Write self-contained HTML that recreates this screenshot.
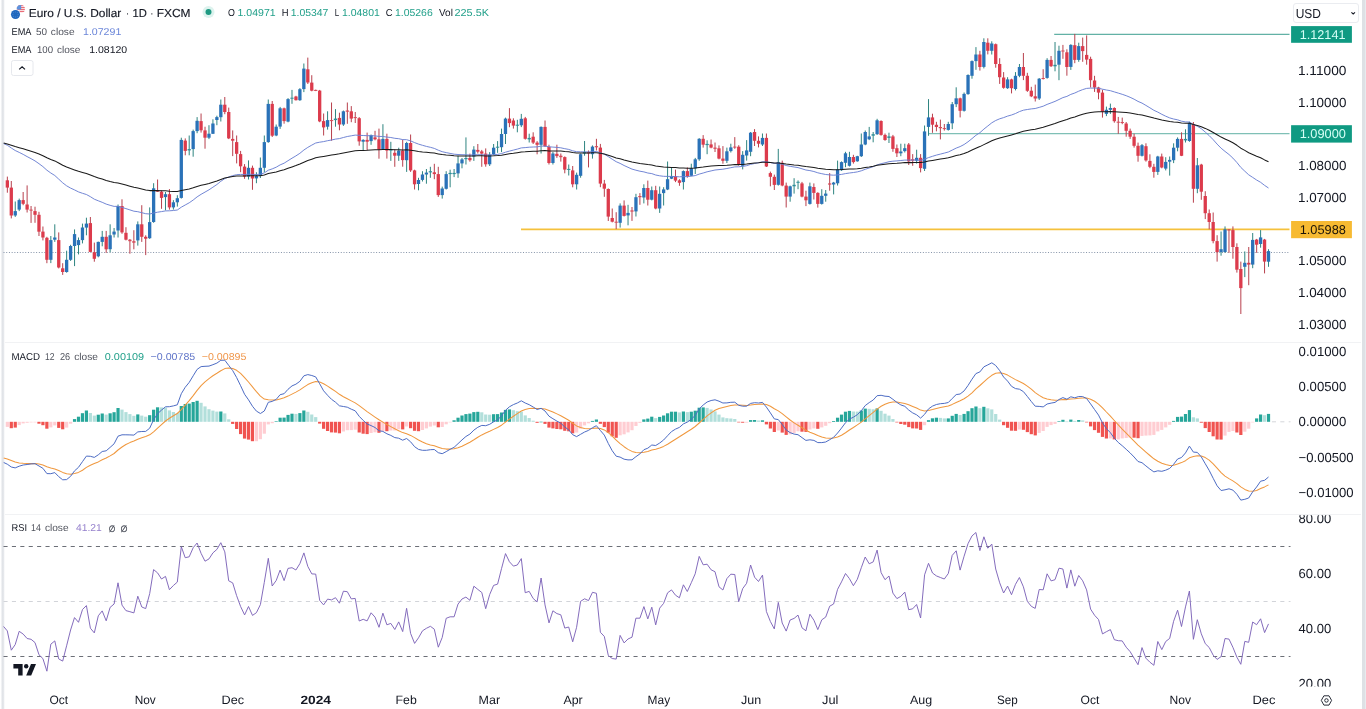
<!DOCTYPE html>
<html lang="en">
<head>
<meta charset="utf-8">
<title>EURUSD chart</title>
<style>
html,body{margin:0;padding:0;background:#fff;}
body{width:1366px;height:709px;overflow:hidden;position:relative;font-family:"Liberation Sans",sans-serif;color:#131722;}
.chart{position:absolute;left:0;top:0;display:block;}
.edge-l{position:absolute;left:0;top:0;width:6px;height:709px;background:linear-gradient(to right,#ffffff 0,#ffffff 0.9px,#e6e8ec 1.9px,#dfe2e6 2.8px,#e6e8ec 3.6px,#ffffff 4.8px,#ffffff 6px);}
.edge-r{position:absolute;left:1361px;top:0;width:5px;height:709px;background:linear-gradient(to right,#ffffff 0,#ffffff 0.6px,#dee1e5 1.3px,#dee1e5 3.8px,#e8ebef 4.2px,#e8ebef 5px);}
.sep{position:absolute;left:5px;width:1356px;height:1px;background:#f1f2f4;}
</style>
</head>
<body>
<div class="edge-l"></div><div class="edge-r"></div>
<div class="sep" style="top:342px"></div>
<div class="sep" style="top:514px"></div>
<svg class="chart" width="1366" height="709" viewBox="0 0 1366 709" shape-rendering="auto">
<g id="lines-h">
<line x1="3.5" x2="1290" y1="252.5" y2="252.5" stroke="#8593a8" stroke-width="1" stroke-dasharray="1 1.72"/>
<line x1="521" x2="1289.5" y1="229.4" y2="229.4" stroke="#f5c13c" stroke-width="1.6"/>
<line x1="928.4" x2="1289.5" y1="133.6" y2="133.6" stroke="#7fc0b6" stroke-width="1.2"/>
<line x1="1054.2" x2="1289.5" y1="34.4" y2="34.4" stroke="#62b1a5" stroke-width="1.2"/>
</g>
<g id="candles" shape-rendering="auto">
<rect x="6.84" y="176.6" width="1" height="16.1" fill="#b8404d"/>
<rect x="10.79" y="181.0" width="1" height="37.4" fill="#b8404d"/>
<rect x="14.75" y="201.5" width="1" height="15.4" fill="#2f8580"/>
<rect x="18.70" y="198.6" width="1" height="12.5" fill="#2f8580"/>
<rect x="22.65" y="192.0" width="1" height="13.2" fill="#b8404d"/>
<rect x="26.61" y="185.4" width="1" height="27.1" fill="#b8404d"/>
<rect x="30.56" y="206.0" width="1" height="16.9" fill="#b8404d"/>
<rect x="34.51" y="206.7" width="1" height="16.1" fill="#b8404d"/>
<rect x="38.47" y="211.8" width="1" height="24.2" fill="#b8404d"/>
<rect x="42.42" y="226.5" width="1" height="13.9" fill="#b8404d"/>
<rect x="46.38" y="236.8" width="1" height="26.4" fill="#b8404d"/>
<rect x="50.33" y="236.0" width="1" height="27.1" fill="#2f8580"/>
<rect x="54.28" y="224.3" width="1" height="17.6" fill="#2f8580"/>
<rect x="58.24" y="232.4" width="1" height="36.0" fill="#b8404d"/>
<rect x="62.19" y="263.2" width="1" height="11.7" fill="#b8404d"/>
<rect x="66.14" y="250.7" width="1" height="22.0" fill="#2f8580"/>
<rect x="70.10" y="244.8" width="1" height="16.1" fill="#2f8580"/>
<rect x="74.05" y="229.4" width="1" height="36.7" fill="#2f8580"/>
<rect x="78.00" y="237.5" width="1" height="16.9" fill="#2f8580"/>
<rect x="81.96" y="223.6" width="1" height="19.8" fill="#2f8580"/>
<rect x="85.91" y="217.7" width="1" height="17.6" fill="#2f8580"/>
<rect x="89.86" y="217.0" width="1" height="35.2" fill="#b8404d"/>
<rect x="93.82" y="242.6" width="1" height="19.1" fill="#b8404d"/>
<rect x="97.77" y="241.6" width="1" height="15.7" fill="#2f8580"/>
<rect x="101.72" y="230.9" width="1" height="15.4" fill="#2f8580"/>
<rect x="105.68" y="230.9" width="1" height="22.0" fill="#b8404d"/>
<rect x="109.63" y="224.3" width="1" height="27.9" fill="#2f8580"/>
<rect x="113.58" y="228.0" width="1" height="9.5" fill="#2f8580"/>
<rect x="117.54" y="204.5" width="1" height="33.0" fill="#2f8580"/>
<rect x="121.49" y="199.3" width="1" height="34.5" fill="#b8404d"/>
<rect x="125.45" y="227.2" width="1" height="13.2" fill="#b8404d"/>
<rect x="129.40" y="239.0" width="1" height="14.7" fill="#b8404d"/>
<rect x="133.35" y="230.2" width="1" height="19.1" fill="#b8404d"/>
<rect x="137.31" y="221.4" width="1" height="24.2" fill="#2f8580"/>
<rect x="141.26" y="205.2" width="1" height="36.7" fill="#b8404d"/>
<rect x="145.21" y="235.3" width="1" height="19.8" fill="#b8404d"/>
<rect x="149.17" y="207.4" width="1" height="31.5" fill="#2f8580"/>
<rect x="153.12" y="183.2" width="1" height="39.6" fill="#2f8580"/>
<rect x="157.07" y="179.5" width="1" height="12.5" fill="#b8404d"/>
<rect x="161.03" y="190.5" width="1" height="18.3" fill="#b8404d"/>
<rect x="164.98" y="192.0" width="1" height="18.3" fill="#2f8580"/>
<rect x="168.93" y="189.1" width="1" height="20.5" fill="#b8404d"/>
<rect x="172.89" y="200.1" width="1" height="9.5" fill="#2f8580"/>
<rect x="176.84" y="195.2" width="1" height="11.4" fill="#2f8580"/>
<rect x="180.79" y="137.7" width="1" height="60.9" fill="#2f8580"/>
<rect x="184.75" y="138.4" width="1" height="16.9" fill="#b8404d"/>
<rect x="188.70" y="135.5" width="1" height="19.8" fill="#2f8580"/>
<rect x="192.65" y="129.6" width="1" height="27.1" fill="#2f8580"/>
<rect x="196.61" y="117.1" width="1" height="16.1" fill="#2f8580"/>
<rect x="200.56" y="113.5" width="1" height="19.1" fill="#b8404d"/>
<rect x="204.52" y="126.7" width="1" height="22.0" fill="#b8404d"/>
<rect x="208.47" y="125.2" width="1" height="13.9" fill="#2f8580"/>
<rect x="212.42" y="119.3" width="1" height="14.7" fill="#2f8580"/>
<rect x="216.38" y="115.7" width="1" height="9.5" fill="#2f8580"/>
<rect x="220.33" y="99.5" width="1" height="22.0" fill="#2f8580"/>
<rect x="224.28" y="97.0" width="1" height="17.2" fill="#b8404d"/>
<rect x="228.24" y="107.6" width="1" height="31.5" fill="#b8404d"/>
<rect x="232.19" y="130.4" width="1" height="25.7" fill="#b8404d"/>
<rect x="236.14" y="135.5" width="1" height="27.9" fill="#b8404d"/>
<rect x="240.10" y="150.9" width="1" height="21.3" fill="#b8404d"/>
<rect x="244.05" y="164.1" width="1" height="14.7" fill="#b8404d"/>
<rect x="248.00" y="160.4" width="1" height="19.1" fill="#2f8580"/>
<rect x="251.96" y="165.6" width="1" height="24.2" fill="#b8404d"/>
<rect x="255.91" y="172.2" width="1" height="11.0" fill="#2f8580"/>
<rect x="259.86" y="157.5" width="1" height="20.5" fill="#2f8580"/>
<rect x="263.82" y="135.5" width="1" height="36.7" fill="#2f8580"/>
<rect x="267.77" y="99.5" width="1" height="43.3" fill="#2f8580"/>
<rect x="271.72" y="101.0" width="1" height="36.0" fill="#b8404d"/>
<rect x="275.68" y="124.5" width="1" height="11.7" fill="#2f8580"/>
<rect x="279.63" y="106.9" width="1" height="22.0" fill="#2f8580"/>
<rect x="283.58" y="107.6" width="1" height="16.1" fill="#b8404d"/>
<rect x="287.54" y="98.1" width="1" height="24.2" fill="#2f8580"/>
<rect x="291.49" y="89.9" width="1" height="13.9" fill="#2f8580"/>
<rect x="295.45" y="95.8" width="1" height="4.7" fill="#b8404d"/>
<rect x="299.40" y="88.1" width="1" height="12.8" fill="#2f8580"/>
<rect x="303.35" y="63.5" width="1" height="28.6" fill="#2f8580"/>
<rect x="307.31" y="57.6" width="1" height="26.4" fill="#b8404d"/>
<rect x="311.26" y="75.2" width="1" height="16.1" fill="#b8404d"/>
<rect x="315.21" y="89.6" width="1" height="1.5" fill="#b8404d"/>
<rect x="319.17" y="89.9" width="1" height="32.3" fill="#b8404d"/>
<rect x="323.12" y="113.5" width="1" height="22.0" fill="#b8404d"/>
<rect x="327.07" y="111.3" width="1" height="18.3" fill="#2f8580"/>
<rect x="331.03" y="102.5" width="1" height="38.2" fill="#b8404d"/>
<rect x="334.98" y="109.1" width="1" height="17.6" fill="#2f8580"/>
<rect x="338.93" y="112.7" width="1" height="17.6" fill="#b8404d"/>
<rect x="342.89" y="110.5" width="1" height="15.4" fill="#2f8580"/>
<rect x="346.84" y="102.5" width="1" height="21.3" fill="#b8404d"/>
<rect x="350.79" y="106.1" width="1" height="16.1" fill="#b8404d"/>
<rect x="354.75" y="112.0" width="1" height="11.0" fill="#b8404d"/>
<rect x="358.70" y="117.1" width="1" height="28.6" fill="#b8404d"/>
<rect x="362.65" y="139.2" width="1" height="11.0" fill="#2f8580"/>
<rect x="366.61" y="132.6" width="1" height="17.6" fill="#b8404d"/>
<rect x="370.56" y="134.5" width="1" height="10.3" fill="#2f8580"/>
<rect x="374.52" y="130.8" width="1" height="9.5" fill="#b8404d"/>
<rect x="378.47" y="128.6" width="1" height="30.1" fill="#b8404d"/>
<rect x="382.42" y="124.2" width="1" height="25.7" fill="#2f8580"/>
<rect x="386.38" y="133.7" width="1" height="24.9" fill="#b8404d"/>
<rect x="390.33" y="141.8" width="1" height="19.1" fill="#2f8580"/>
<rect x="394.28" y="149.2" width="1" height="17.6" fill="#b8404d"/>
<rect x="398.24" y="147.7" width="1" height="13.2" fill="#2f8580"/>
<rect x="402.19" y="139.6" width="1" height="27.1" fill="#b8404d"/>
<rect x="406.14" y="141.8" width="1" height="30.1" fill="#2f8580"/>
<rect x="410.10" y="134.5" width="1" height="37.4" fill="#b8404d"/>
<rect x="414.05" y="169.7" width="1" height="19.8" fill="#b8404d"/>
<rect x="418.00" y="177.8" width="1" height="12.5" fill="#2f8580"/>
<rect x="421.96" y="171.2" width="1" height="10.3" fill="#2f8580"/>
<rect x="425.91" y="169.0" width="1" height="14.7" fill="#2f8580"/>
<rect x="429.86" y="166.8" width="1" height="11.0" fill="#2f8580"/>
<rect x="433.82" y="163.8" width="1" height="15.4" fill="#b8404d"/>
<rect x="437.77" y="166.8" width="1" height="30.1" fill="#b8404d"/>
<rect x="441.72" y="186.6" width="1" height="12.0" fill="#2f8580"/>
<rect x="445.68" y="171.2" width="1" height="18.3" fill="#2f8580"/>
<rect x="449.63" y="169.7" width="1" height="17.6" fill="#2f8580"/>
<rect x="453.59" y="169.0" width="1" height="8.1" fill="#2f8580"/>
<rect x="457.54" y="155.8" width="1" height="22.0" fill="#2f8580"/>
<rect x="461.49" y="158.0" width="1" height="10.3" fill="#2f8580"/>
<rect x="465.45" y="137.4" width="1" height="27.1" fill="#2f8580"/>
<rect x="469.40" y="153.6" width="1" height="8.1" fill="#b8404d"/>
<rect x="473.35" y="146.2" width="1" height="14.7" fill="#2f8580"/>
<rect x="477.31" y="144.0" width="1" height="9.5" fill="#b8404d"/>
<rect x="481.26" y="149.9" width="1" height="16.9" fill="#b8404d"/>
<rect x="485.21" y="148.4" width="1" height="18.3" fill="#b8404d"/>
<rect x="489.17" y="152.1" width="1" height="13.9" fill="#2f8580"/>
<rect x="493.12" y="144.0" width="1" height="11.0" fill="#2f8580"/>
<rect x="497.07" y="141.1" width="1" height="11.7" fill="#2f8580"/>
<rect x="501.03" y="128.6" width="1" height="23.5" fill="#2f8580"/>
<rect x="504.98" y="117.6" width="1" height="26.4" fill="#2f8580"/>
<rect x="508.93" y="108.1" width="1" height="19.1" fill="#b8404d"/>
<rect x="512.89" y="118.3" width="1" height="10.3" fill="#b8404d"/>
<rect x="516.84" y="119.8" width="1" height="12.5" fill="#2f8580"/>
<rect x="520.80" y="113.9" width="1" height="13.2" fill="#2f8580"/>
<rect x="524.75" y="116.9" width="1" height="22.7" fill="#b8404d"/>
<rect x="528.70" y="133.7" width="1" height="8.8" fill="#2f8580"/>
<rect x="532.66" y="132.3" width="1" height="11.7" fill="#b8404d"/>
<rect x="536.61" y="141.1" width="1" height="13.2" fill="#b8404d"/>
<rect x="540.56" y="126.4" width="1" height="27.1" fill="#2f8580"/>
<rect x="544.52" y="120.5" width="1" height="26.4" fill="#b8404d"/>
<rect x="548.47" y="144.7" width="1" height="19.8" fill="#b8404d"/>
<rect x="552.42" y="152.0" width="1" height="12.5" fill="#2f8580"/>
<rect x="556.38" y="144.7" width="1" height="13.2" fill="#b8404d"/>
<rect x="560.33" y="153.5" width="1" height="8.1" fill="#b8404d"/>
<rect x="564.28" y="156.4" width="1" height="16.9" fill="#b8404d"/>
<rect x="568.24" y="164.5" width="1" height="11.0" fill="#2f8580"/>
<rect x="572.19" y="166.0" width="1" height="21.3" fill="#b8404d"/>
<rect x="576.14" y="172.6" width="1" height="16.9" fill="#2f8580"/>
<rect x="580.10" y="153.5" width="1" height="24.2" fill="#2f8580"/>
<rect x="584.05" y="141.0" width="1" height="14.7" fill="#2f8580"/>
<rect x="588.00" y="150.5" width="1" height="16.9" fill="#b8404d"/>
<rect x="591.96" y="145.4" width="1" height="13.2" fill="#2f8580"/>
<rect x="595.91" y="138.8" width="1" height="11.7" fill="#b8404d"/>
<rect x="599.87" y="143.9" width="1" height="43.3" fill="#b8404d"/>
<rect x="603.82" y="179.9" width="1" height="16.9" fill="#b8404d"/>
<rect x="607.77" y="188.4" width="1" height="32.6" fill="#b8404d"/>
<rect x="611.73" y="208.5" width="1" height="13.9" fill="#b8404d"/>
<rect x="615.68" y="212.2" width="1" height="16.9" fill="#b8404d"/>
<rect x="619.63" y="203.4" width="1" height="24.2" fill="#2f8580"/>
<rect x="623.59" y="200.4" width="1" height="16.1" fill="#b8404d"/>
<rect x="627.54" y="204.8" width="1" height="20.5" fill="#2f8580"/>
<rect x="631.49" y="207.0" width="1" height="13.9" fill="#b8404d"/>
<rect x="635.45" y="193.8" width="1" height="22.7" fill="#2f8580"/>
<rect x="639.40" y="193.1" width="1" height="11.7" fill="#b8404d"/>
<rect x="643.35" y="184.3" width="1" height="19.1" fill="#2f8580"/>
<rect x="647.31" y="180.6" width="1" height="24.9" fill="#b8404d"/>
<rect x="651.26" y="186.5" width="1" height="13.9" fill="#2f8580"/>
<rect x="655.21" y="185.8" width="1" height="23.5" fill="#b8404d"/>
<rect x="659.17" y="186.5" width="1" height="26.4" fill="#2f8580"/>
<rect x="663.12" y="187.2" width="1" height="18.3" fill="#2f8580"/>
<rect x="667.07" y="161.5" width="1" height="28.6" fill="#2f8580"/>
<rect x="671.03" y="167.4" width="1" height="11.7" fill="#2f8580"/>
<rect x="674.98" y="169.6" width="1" height="12.5" fill="#b8404d"/>
<rect x="678.94" y="179.2" width="1" height="6.6" fill="#b8404d"/>
<rect x="682.89" y="170.4" width="1" height="19.1" fill="#2f8580"/>
<rect x="686.84" y="167.4" width="1" height="10.3" fill="#b8404d"/>
<rect x="690.80" y="163.7" width="1" height="12.5" fill="#2f8580"/>
<rect x="694.75" y="157.9" width="1" height="16.1" fill="#2f8580"/>
<rect x="698.70" y="138.1" width="1" height="22.7" fill="#2f8580"/>
<rect x="702.66" y="135.1" width="1" height="12.5" fill="#b8404d"/>
<rect x="706.61" y="140.3" width="1" height="13.9" fill="#2f8580"/>
<rect x="710.56" y="139.5" width="1" height="8.8" fill="#b8404d"/>
<rect x="714.52" y="142.5" width="1" height="9.5" fill="#b8404d"/>
<rect x="718.47" y="145.4" width="1" height="13.9" fill="#b8404d"/>
<rect x="722.42" y="146.1" width="1" height="17.6" fill="#b8404d"/>
<rect x="726.38" y="147.6" width="1" height="15.4" fill="#2f8580"/>
<rect x="730.33" y="143.7" width="1" height="8.8" fill="#2f8580"/>
<rect x="734.28" y="137.1" width="1" height="11.7" fill="#b8404d"/>
<rect x="738.24" y="145.2" width="1" height="20.5" fill="#b8404d"/>
<rect x="742.19" y="151.1" width="1" height="18.3" fill="#2f8580"/>
<rect x="746.14" y="140.1" width="1" height="20.5" fill="#2f8580"/>
<rect x="750.10" y="132.0" width="1" height="24.2" fill="#2f8580"/>
<rect x="754.05" y="129.1" width="1" height="16.9" fill="#b8404d"/>
<rect x="758.00" y="136.4" width="1" height="11.0" fill="#b8404d"/>
<rect x="761.96" y="133.5" width="1" height="12.5" fill="#2f8580"/>
<rect x="765.91" y="133.5" width="1" height="33.5" fill="#b8404d"/>
<rect x="769.87" y="171.6" width="1" height="14.7" fill="#b8404d"/>
<rect x="773.82" y="174.6" width="1" height="15.4" fill="#b8404d"/>
<rect x="777.77" y="148.9" width="1" height="36.7" fill="#2f8580"/>
<rect x="781.73" y="160.6" width="1" height="25.7" fill="#b8404d"/>
<rect x="785.68" y="182.6" width="1" height="24.9" fill="#b8404d"/>
<rect x="789.63" y="185.6" width="1" height="16.1" fill="#2f8580"/>
<rect x="793.59" y="178.2" width="1" height="15.4" fill="#2f8580"/>
<rect x="797.54" y="180.4" width="1" height="8.8" fill="#2f8580"/>
<rect x="801.49" y="181.9" width="1" height="15.4" fill="#b8404d"/>
<rect x="805.45" y="190.7" width="1" height="15.4" fill="#b8404d"/>
<rect x="809.40" y="182.6" width="1" height="22.0" fill="#2f8580"/>
<rect x="813.35" y="183.4" width="1" height="16.1" fill="#b8404d"/>
<rect x="817.31" y="192.2" width="1" height="15.4" fill="#b8404d"/>
<rect x="821.26" y="189.2" width="1" height="15.4" fill="#2f8580"/>
<rect x="825.21" y="190.0" width="1" height="11.7" fill="#2f8580"/>
<rect x="829.17" y="173.1" width="1" height="17.6" fill="#b8404d"/>
<rect x="833.12" y="181.9" width="1" height="12.5" fill="#2f8580"/>
<rect x="837.08" y="160.6" width="1" height="24.9" fill="#2f8580"/>
<rect x="841.03" y="161.4" width="1" height="9.5" fill="#2f8580"/>
<rect x="844.98" y="151.8" width="1" height="15.4" fill="#2f8580"/>
<rect x="848.94" y="151.8" width="1" height="14.7" fill="#2f8580"/>
<rect x="852.89" y="154.8" width="1" height="8.8" fill="#b8404d"/>
<rect x="856.84" y="155.8" width="1" height="5.9" fill="#2f8580"/>
<rect x="860.80" y="133.5" width="1" height="23.5" fill="#2f8580"/>
<rect x="864.75" y="130.5" width="1" height="14.7" fill="#2f8580"/>
<rect x="868.70" y="126.9" width="1" height="13.2" fill="#2f8580"/>
<rect x="872.66" y="132.0" width="1" height="10.3" fill="#2f8580"/>
<rect x="876.61" y="118.8" width="1" height="16.1" fill="#2f8580"/>
<rect x="880.56" y="120.3" width="1" height="15.4" fill="#b8404d"/>
<rect x="884.52" y="133.5" width="1" height="7.3" fill="#b8404d"/>
<rect x="888.47" y="132.7" width="1" height="10.3" fill="#2f8580"/>
<rect x="892.42" y="134.9" width="1" height="16.9" fill="#b8404d"/>
<rect x="896.38" y="144.5" width="1" height="12.5" fill="#b8404d"/>
<rect x="900.33" y="143.7" width="1" height="12.5" fill="#2f8580"/>
<rect x="904.28" y="143.7" width="1" height="8.8" fill="#2f8580"/>
<rect x="908.24" y="143.0" width="1" height="22.0" fill="#b8404d"/>
<rect x="912.19" y="154.1" width="1" height="11.7" fill="#b8404d"/>
<rect x="916.14" y="149.7" width="1" height="13.9" fill="#2f8580"/>
<rect x="920.10" y="154.1" width="1" height="18.3" fill="#b8404d"/>
<rect x="924.05" y="125.5" width="1" height="45.5" fill="#2f8580"/>
<rect x="928.01" y="99.1" width="1" height="36.7" fill="#2f8580"/>
<rect x="931.96" y="113.7" width="1" height="19.1" fill="#b8404d"/>
<rect x="935.91" y="121.8" width="1" height="9.5" fill="#b8404d"/>
<rect x="939.87" y="119.6" width="1" height="19.8" fill="#b8404d"/>
<rect x="943.82" y="124.0" width="1" height="6.6" fill="#b8404d"/>
<rect x="947.77" y="121.8" width="1" height="8.8" fill="#2f8580"/>
<rect x="951.73" y="102.0" width="1" height="27.1" fill="#2f8580"/>
<rect x="955.68" y="87.3" width="1" height="19.8" fill="#2f8580"/>
<rect x="959.63" y="97.6" width="1" height="19.8" fill="#b8404d"/>
<rect x="963.59" y="92.5" width="1" height="19.1" fill="#2f8580"/>
<rect x="967.54" y="74.3" width="1" height="20.5" fill="#2f8580"/>
<rect x="971.49" y="60.4" width="1" height="18.3" fill="#2f8580"/>
<rect x="975.45" y="47.1" width="1" height="22.7" fill="#2f8580"/>
<rect x="979.40" y="50.8" width="1" height="19.8" fill="#b8404d"/>
<rect x="983.35" y="38.3" width="1" height="30.1" fill="#2f8580"/>
<rect x="987.31" y="38.3" width="1" height="16.1" fill="#b8404d"/>
<rect x="991.26" y="41.3" width="1" height="13.2" fill="#2f8580"/>
<rect x="995.22" y="43.5" width="1" height="24.2" fill="#b8404d"/>
<rect x="999.17" y="58.2" width="1" height="25.7" fill="#b8404d"/>
<rect x="1003.12" y="72.1" width="1" height="16.6" fill="#b8404d"/>
<rect x="1007.08" y="77.2" width="1" height="11.7" fill="#2f8580"/>
<rect x="1011.03" y="78.7" width="1" height="14.7" fill="#b8404d"/>
<rect x="1014.98" y="72.1" width="1" height="18.3" fill="#2f8580"/>
<rect x="1018.94" y="64.0" width="1" height="13.2" fill="#2f8580"/>
<rect x="1022.89" y="53.0" width="1" height="27.1" fill="#b8404d"/>
<rect x="1026.84" y="72.8" width="1" height="19.1" fill="#b8404d"/>
<rect x="1030.80" y="86.8" width="1" height="10.3" fill="#b8404d"/>
<rect x="1034.75" y="84.6" width="1" height="16.9" fill="#b8404d"/>
<rect x="1038.70" y="78.0" width="1" height="22.0" fill="#2f8580"/>
<rect x="1042.66" y="69.2" width="1" height="10.3" fill="#b8404d"/>
<rect x="1046.61" y="58.2" width="1" height="20.5" fill="#2f8580"/>
<rect x="1050.56" y="56.0" width="1" height="11.0" fill="#b8404d"/>
<rect x="1054.52" y="42.0" width="1" height="29.3" fill="#2f8580"/>
<rect x="1058.47" y="45.7" width="1" height="34.5" fill="#2f8580"/>
<rect x="1062.42" y="44.9" width="1" height="13.9" fill="#b8404d"/>
<rect x="1066.38" y="49.3" width="1" height="26.4" fill="#b8404d"/>
<rect x="1070.33" y="44.2" width="1" height="25.7" fill="#2f8580"/>
<rect x="1074.28" y="33.9" width="1" height="29.3" fill="#b8404d"/>
<rect x="1078.24" y="42.7" width="1" height="19.1" fill="#2f8580"/>
<rect x="1082.19" y="37.6" width="1" height="24.2" fill="#b8404d"/>
<rect x="1086.15" y="35.4" width="1" height="29.3" fill="#b8404d"/>
<rect x="1090.10" y="56.7" width="1" height="30.8" fill="#b8404d"/>
<rect x="1094.05" y="75.8" width="1" height="16.1" fill="#b8404d"/>
<rect x="1098.01" y="86.8" width="1" height="12.5" fill="#b8404d"/>
<rect x="1101.96" y="89.7" width="1" height="27.9" fill="#b8404d"/>
<rect x="1105.91" y="106.6" width="1" height="9.5" fill="#2f8580"/>
<rect x="1109.87" y="103.6" width="1" height="10.3" fill="#2f8580"/>
<rect x="1113.82" y="107.3" width="1" height="15.4" fill="#b8404d"/>
<rect x="1117.77" y="116.9" width="1" height="16.9" fill="#b8404d"/>
<rect x="1121.73" y="117.6" width="1" height="6.6" fill="#b8404d"/>
<rect x="1125.68" y="122.0" width="1" height="14.7" fill="#b8404d"/>
<rect x="1129.63" y="128.6" width="1" height="10.3" fill="#b8404d"/>
<rect x="1133.59" y="133.7" width="1" height="13.9" fill="#b8404d"/>
<rect x="1137.54" y="142.6" width="1" height="19.1" fill="#b8404d"/>
<rect x="1141.49" y="144.0" width="1" height="12.5" fill="#2f8580"/>
<rect x="1145.45" y="143.3" width="1" height="18.3" fill="#b8404d"/>
<rect x="1149.40" y="154.3" width="1" height="13.9" fill="#b8404d"/>
<rect x="1153.36" y="163.8" width="1" height="13.9" fill="#b8404d"/>
<rect x="1157.31" y="155.8" width="1" height="19.1" fill="#2f8580"/>
<rect x="1161.26" y="153.6" width="1" height="14.7" fill="#b8404d"/>
<rect x="1165.22" y="157.2" width="1" height="13.2" fill="#2f8580"/>
<rect x="1169.17" y="156.5" width="1" height="19.1" fill="#2f8580"/>
<rect x="1173.12" y="143.3" width="1" height="19.8" fill="#2f8580"/>
<rect x="1177.08" y="137.4" width="1" height="13.9" fill="#2f8580"/>
<rect x="1181.03" y="132.3" width="1" height="23.8" fill="#b8404d"/>
<rect x="1184.98" y="129.3" width="1" height="13.2" fill="#2f8580"/>
<rect x="1188.94" y="121.7" width="1" height="20.1" fill="#2f8580"/>
<rect x="1192.89" y="122.0" width="1" height="80.7" fill="#b8404d"/>
<rect x="1196.84" y="158.0" width="1" height="35.2" fill="#2f8580"/>
<rect x="1200.80" y="163.8" width="1" height="36.0" fill="#b8404d"/>
<rect x="1204.75" y="191.2" width="1" height="27.9" fill="#b8404d"/>
<rect x="1208.70" y="209.5" width="1" height="19.8" fill="#b8404d"/>
<rect x="1212.66" y="212.5" width="1" height="30.8" fill="#b8404d"/>
<rect x="1216.61" y="235.2" width="1" height="26.4" fill="#b8404d"/>
<rect x="1220.56" y="231.5" width="1" height="24.2" fill="#2f8580"/>
<rect x="1224.52" y="226.4" width="1" height="26.4" fill="#2f8580"/>
<rect x="1228.47" y="229.1" width="1" height="23.8" fill="#b8404d"/>
<rect x="1232.42" y="226.4" width="1" height="32.3" fill="#b8404d"/>
<rect x="1236.38" y="243.3" width="1" height="29.3" fill="#b8404d"/>
<rect x="1240.33" y="261.6" width="1" height="52.4" fill="#b8404d"/>
<rect x="1244.29" y="251.4" width="1" height="25.7" fill="#2f8580"/>
<rect x="1248.24" y="247.0" width="1" height="38.2" fill="#b8404d"/>
<rect x="1252.19" y="233.0" width="1" height="35.2" fill="#2f8580"/>
<rect x="1256.15" y="238.9" width="1" height="13.9" fill="#b8404d"/>
<rect x="1260.10" y="230.1" width="1" height="17.6" fill="#2f8580"/>
<rect x="1264.05" y="238.9" width="1" height="34.5" fill="#b8404d"/>
<rect x="1268.01" y="249.2" width="1" height="17.6" fill="#2f8580"/>
<rect x="5.69" y="180.3" width="3.3" height="7.3" fill="#dc3b4c"/>
<rect x="9.64" y="187.6" width="3.3" height="27.9" fill="#dc3b4c"/>
<rect x="13.60" y="211.1" width="3.3" height="4.4" fill="#2a72b8"/>
<rect x="17.55" y="200.1" width="3.3" height="9.5" fill="#2a72b8"/>
<rect x="21.50" y="200.1" width="3.3" height="3.7" fill="#dc3b4c"/>
<rect x="25.46" y="204.5" width="3.3" height="5.1" fill="#dc3b4c"/>
<rect x="29.41" y="209.6" width="3.3" height="1.0" fill="#d84a58"/>
<rect x="33.36" y="211.1" width="3.3" height="3.7" fill="#dc3b4c"/>
<rect x="37.32" y="214.8" width="3.3" height="16.9" fill="#dc3b4c"/>
<rect x="41.27" y="231.6" width="3.3" height="5.9" fill="#dc3b4c"/>
<rect x="45.23" y="237.8" width="3.3" height="22.0" fill="#dc3b4c"/>
<rect x="49.18" y="240.1" width="3.3" height="19.7" fill="#2a72b8"/>
<rect x="53.13" y="237.5" width="3.3" height="2.2" fill="#2a72b8"/>
<rect x="57.09" y="240.1" width="3.3" height="27.4" fill="#dc3b4c"/>
<rect x="61.04" y="268.3" width="3.3" height="3.7" fill="#dc3b4c"/>
<rect x="64.99" y="259.8" width="3.3" height="12.2" fill="#2a72b8"/>
<rect x="68.95" y="246.0" width="3.3" height="13.8" fill="#2a72b8"/>
<rect x="72.90" y="234.1" width="3.3" height="11.9" fill="#2a72b8"/>
<rect x="76.85" y="240.1" width="3.3" height="5.0" fill="#2a72b8"/>
<rect x="80.81" y="227.5" width="3.3" height="12.6" fill="#2a72b8"/>
<rect x="84.76" y="223.6" width="3.3" height="4.0" fill="#2a72b8"/>
<rect x="88.71" y="223.1" width="3.3" height="28.8" fill="#dc3b4c"/>
<rect x="92.67" y="252.2" width="3.3" height="6.6" fill="#dc3b4c"/>
<rect x="96.62" y="241.9" width="3.3" height="14.4" fill="#2a72b8"/>
<rect x="100.57" y="236.8" width="3.3" height="5.1" fill="#2a72b8"/>
<rect x="104.53" y="236.8" width="3.3" height="12.5" fill="#dc3b4c"/>
<rect x="108.48" y="235.3" width="3.3" height="13.9" fill="#2a72b8"/>
<rect x="112.43" y="231.6" width="3.3" height="2.9" fill="#2a72b8"/>
<rect x="116.39" y="206.0" width="3.3" height="24.5" fill="#2a72b8"/>
<rect x="120.34" y="206.0" width="3.3" height="26.4" fill="#dc3b4c"/>
<rect x="124.30" y="232.8" width="3.3" height="6.9" fill="#dc3b4c"/>
<rect x="128.25" y="239.7" width="3.3" height="1.5" fill="#d84a58"/>
<rect x="132.20" y="241.2" width="3.3" height="1.5" fill="#d84a58"/>
<rect x="136.16" y="224.3" width="3.3" height="16.1" fill="#2a72b8"/>
<rect x="140.11" y="224.3" width="3.3" height="12.5" fill="#dc3b4c"/>
<rect x="144.06" y="236.8" width="3.3" height="1.9" fill="#dc3b4c"/>
<rect x="148.02" y="222.1" width="3.3" height="16.1" fill="#2a72b8"/>
<rect x="151.97" y="188.3" width="3.3" height="33.7" fill="#2a72b8"/>
<rect x="155.92" y="190.2" width="3.3" height="1.5" fill="#d84a58"/>
<rect x="159.88" y="191.7" width="3.3" height="6.2" fill="#dc3b4c"/>
<rect x="163.83" y="194.2" width="3.3" height="2.9" fill="#2a72b8"/>
<rect x="167.78" y="194.2" width="3.3" height="13.2" fill="#dc3b4c"/>
<rect x="171.74" y="202.3" width="3.3" height="5.1" fill="#2a72b8"/>
<rect x="175.69" y="198.2" width="3.3" height="4.1" fill="#2a72b8"/>
<rect x="179.64" y="139.9" width="3.3" height="58.0" fill="#2a72b8"/>
<rect x="183.60" y="140.6" width="3.3" height="10.3" fill="#dc3b4c"/>
<rect x="187.55" y="149.1" width="3.3" height="1.3" fill="#2f8f9c"/>
<rect x="191.50" y="131.1" width="3.3" height="18.0" fill="#2a72b8"/>
<rect x="195.46" y="120.8" width="3.3" height="10.3" fill="#2a72b8"/>
<rect x="199.41" y="121.1" width="3.3" height="9.2" fill="#dc3b4c"/>
<rect x="203.37" y="130.4" width="3.3" height="7.3" fill="#dc3b4c"/>
<rect x="207.32" y="133.7" width="3.3" height="4.0" fill="#2a72b8"/>
<rect x="211.27" y="123.5" width="3.3" height="10.3" fill="#2a72b8"/>
<rect x="215.23" y="117.1" width="3.3" height="2.9" fill="#2a72b8"/>
<rect x="219.18" y="104.7" width="3.3" height="12.5" fill="#2a72b8"/>
<rect x="223.13" y="104.7" width="3.3" height="7.3" fill="#dc3b4c"/>
<rect x="227.09" y="112.0" width="3.3" height="26.4" fill="#dc3b4c"/>
<rect x="231.04" y="138.9" width="3.3" height="1.8" fill="#dc3b4c"/>
<rect x="234.99" y="142.1" width="3.3" height="11.7" fill="#dc3b4c"/>
<rect x="238.95" y="154.1" width="3.3" height="12.2" fill="#dc3b4c"/>
<rect x="242.90" y="166.6" width="3.3" height="10.0" fill="#dc3b4c"/>
<rect x="246.85" y="167.8" width="3.3" height="8.8" fill="#2a72b8"/>
<rect x="250.81" y="167.8" width="3.3" height="10.7" fill="#dc3b4c"/>
<rect x="254.76" y="175.8" width="3.3" height="2.6" fill="#2a72b8"/>
<rect x="258.71" y="167.8" width="3.3" height="8.1" fill="#2a72b8"/>
<rect x="262.67" y="142.1" width="3.3" height="25.7" fill="#2a72b8"/>
<rect x="266.62" y="103.9" width="3.3" height="38.2" fill="#2a72b8"/>
<rect x="270.57" y="103.9" width="3.3" height="31.8" fill="#dc3b4c"/>
<rect x="274.53" y="126.7" width="3.3" height="8.8" fill="#2a72b8"/>
<rect x="278.48" y="108.3" width="3.3" height="18.3" fill="#2a72b8"/>
<rect x="282.44" y="108.3" width="3.3" height="12.8" fill="#dc3b4c"/>
<rect x="286.39" y="99.1" width="3.3" height="22.5" fill="#2a72b8"/>
<rect x="290.34" y="97.7" width="3.3" height="1.0" fill="#2f8f9c"/>
<rect x="294.30" y="96.5" width="3.3" height="3.7" fill="#dc3b4c"/>
<rect x="298.25" y="89.2" width="3.3" height="11.0" fill="#2a72b8"/>
<rect x="302.20" y="68.6" width="3.3" height="20.5" fill="#2a72b8"/>
<rect x="306.16" y="69.3" width="3.3" height="13.2" fill="#dc3b4c"/>
<rect x="310.11" y="82.6" width="3.3" height="8.1" fill="#dc3b4c"/>
<rect x="314.06" y="89.9" width="3.3" height="1.0" fill="#d84a58"/>
<rect x="318.02" y="90.6" width="3.3" height="30.8" fill="#dc3b4c"/>
<rect x="321.97" y="121.1" width="3.3" height="6.3" fill="#dc3b4c"/>
<rect x="325.92" y="120.1" width="3.3" height="6.6" fill="#2a72b8"/>
<rect x="329.88" y="120.1" width="3.3" height="1.0" fill="#d84a58"/>
<rect x="333.83" y="118.6" width="3.3" height="1.5" fill="#2f8f9c"/>
<rect x="337.78" y="117.9" width="3.3" height="6.6" fill="#dc3b4c"/>
<rect x="341.74" y="111.3" width="3.3" height="13.2" fill="#2a72b8"/>
<rect x="345.69" y="110.5" width="3.3" height="1.2" fill="#d84a58"/>
<rect x="349.64" y="111.3" width="3.3" height="7.3" fill="#dc3b4c"/>
<rect x="353.60" y="117.1" width="3.3" height="1.0" fill="#d84a58"/>
<rect x="357.55" y="118.2" width="3.3" height="23.2" fill="#dc3b4c"/>
<rect x="361.50" y="139.9" width="3.3" height="1.8" fill="#2a72b8"/>
<rect x="365.46" y="139.9" width="3.3" height="1.8" fill="#dc3b4c"/>
<rect x="369.41" y="135.2" width="3.3" height="5.9" fill="#2a72b8"/>
<rect x="373.37" y="137.4" width="3.3" height="1.9" fill="#dc3b4c"/>
<rect x="377.32" y="139.3" width="3.3" height="10.3" fill="#dc3b4c"/>
<rect x="381.27" y="138.9" width="3.3" height="10.3" fill="#2a72b8"/>
<rect x="385.23" y="138.9" width="3.3" height="11.7" fill="#dc3b4c"/>
<rect x="389.18" y="149.6" width="3.3" height="1.0" fill="#2f8f9c"/>
<rect x="393.13" y="152.8" width="3.3" height="2.9" fill="#dc3b4c"/>
<rect x="397.09" y="150.6" width="3.3" height="5.1" fill="#2a72b8"/>
<rect x="401.04" y="150.6" width="3.3" height="9.5" fill="#dc3b4c"/>
<rect x="404.99" y="143.0" width="3.3" height="17.2" fill="#2a72b8"/>
<rect x="408.95" y="143.0" width="3.3" height="27.4" fill="#dc3b4c"/>
<rect x="412.90" y="170.4" width="3.3" height="13.9" fill="#dc3b4c"/>
<rect x="416.85" y="180.0" width="3.3" height="4.0" fill="#2a72b8"/>
<rect x="420.81" y="174.5" width="3.3" height="5.4" fill="#2a72b8"/>
<rect x="424.76" y="172.6" width="3.3" height="1.9" fill="#2a72b8"/>
<rect x="428.71" y="171.2" width="3.3" height="1.2" fill="#2f8f9c"/>
<rect x="432.67" y="172.3" width="3.3" height="1.8" fill="#dc3b4c"/>
<rect x="436.62" y="174.1" width="3.3" height="21.0" fill="#dc3b4c"/>
<rect x="440.57" y="188.5" width="3.3" height="6.6" fill="#2a72b8"/>
<rect x="444.53" y="174.1" width="3.3" height="14.7" fill="#2a72b8"/>
<rect x="448.48" y="172.9" width="3.3" height="1.2" fill="#2f8f9c"/>
<rect x="452.44" y="172.9" width="3.3" height="1.2" fill="#2f8f9c"/>
<rect x="456.39" y="163.4" width="3.3" height="10.0" fill="#2a72b8"/>
<rect x="460.34" y="159.4" width="3.3" height="4.0" fill="#2a72b8"/>
<rect x="464.30" y="158.0" width="3.3" height="1.2" fill="#2f8f9c"/>
<rect x="468.25" y="158.0" width="3.3" height="2.2" fill="#dc3b4c"/>
<rect x="472.20" y="149.6" width="3.3" height="6.9" fill="#2a72b8"/>
<rect x="476.16" y="149.9" width="3.3" height="1.8" fill="#dc3b4c"/>
<rect x="480.11" y="151.4" width="3.3" height="2.2" fill="#dc3b4c"/>
<rect x="484.06" y="153.6" width="3.3" height="10.7" fill="#dc3b4c"/>
<rect x="488.02" y="154.6" width="3.3" height="9.7" fill="#2a72b8"/>
<rect x="491.97" y="147.7" width="3.3" height="6.6" fill="#2a72b8"/>
<rect x="495.92" y="146.7" width="3.3" height="1.0" fill="#2f8f9c"/>
<rect x="499.88" y="134.0" width="3.3" height="13.2" fill="#2a72b8"/>
<rect x="503.83" y="118.6" width="3.3" height="15.4" fill="#2a72b8"/>
<rect x="507.78" y="118.6" width="3.3" height="4.5" fill="#dc3b4c"/>
<rect x="511.74" y="120.5" width="3.3" height="5.1" fill="#dc3b4c"/>
<rect x="515.69" y="124.7" width="3.3" height="1.0" fill="#2f8f9c"/>
<rect x="519.65" y="118.8" width="3.3" height="6.5" fill="#2a72b8"/>
<rect x="523.60" y="118.3" width="3.3" height="20.5" fill="#dc3b4c"/>
<rect x="527.55" y="137.9" width="3.3" height="1.5" fill="#2f8f9c"/>
<rect x="531.51" y="136.7" width="3.3" height="5.9" fill="#dc3b4c"/>
<rect x="535.46" y="142.6" width="3.3" height="2.2" fill="#dc3b4c"/>
<rect x="539.41" y="126.9" width="3.3" height="17.9" fill="#2a72b8"/>
<rect x="543.37" y="126.9" width="3.3" height="19.4" fill="#dc3b4c"/>
<rect x="547.32" y="146.9" width="3.3" height="16.1" fill="#dc3b4c"/>
<rect x="551.27" y="153.5" width="3.3" height="9.5" fill="#2a72b8"/>
<rect x="555.23" y="153.8" width="3.3" height="2.3" fill="#dc3b4c"/>
<rect x="559.18" y="155.7" width="3.3" height="1.5" fill="#d84a58"/>
<rect x="563.13" y="157.1" width="3.3" height="12.5" fill="#dc3b4c"/>
<rect x="567.09" y="168.9" width="3.3" height="1.0" fill="#2f8f9c"/>
<rect x="571.04" y="170.4" width="3.3" height="13.9" fill="#dc3b4c"/>
<rect x="574.99" y="174.8" width="3.3" height="9.5" fill="#2a72b8"/>
<rect x="578.95" y="154.2" width="3.3" height="21.6" fill="#2a72b8"/>
<rect x="582.90" y="152.0" width="3.3" height="1.5" fill="#2f8f9c"/>
<rect x="586.85" y="152.0" width="3.3" height="1.5" fill="#d84a58"/>
<rect x="590.81" y="146.6" width="3.3" height="7.6" fill="#2a72b8"/>
<rect x="594.76" y="146.1" width="3.3" height="1.2" fill="#d84a58"/>
<rect x="598.72" y="147.6" width="3.3" height="36.0" fill="#dc3b4c"/>
<rect x="602.67" y="183.6" width="3.3" height="5.1" fill="#dc3b4c"/>
<rect x="606.62" y="189.0" width="3.3" height="27.6" fill="#dc3b4c"/>
<rect x="610.58" y="218.0" width="3.3" height="3.7" fill="#dc3b4c"/>
<rect x="614.53" y="221.7" width="3.3" height="1.0" fill="#d84a58"/>
<rect x="618.48" y="205.6" width="3.3" height="17.2" fill="#2a72b8"/>
<rect x="622.44" y="205.6" width="3.3" height="10.3" fill="#dc3b4c"/>
<rect x="626.39" y="212.9" width="3.3" height="2.5" fill="#2a72b8"/>
<rect x="630.34" y="210.4" width="3.3" height="1.2" fill="#d84a58"/>
<rect x="634.30" y="197.2" width="3.3" height="14.2" fill="#2a72b8"/>
<rect x="638.25" y="196.0" width="3.3" height="1.2" fill="#d84a58"/>
<rect x="642.20" y="188.0" width="3.3" height="9.5" fill="#2a72b8"/>
<rect x="646.16" y="188.0" width="3.3" height="11.7" fill="#dc3b4c"/>
<rect x="650.11" y="190.2" width="3.3" height="9.5" fill="#2a72b8"/>
<rect x="654.06" y="190.2" width="3.3" height="18.3" fill="#dc3b4c"/>
<rect x="658.02" y="193.8" width="3.3" height="14.7" fill="#2a72b8"/>
<rect x="661.97" y="189.4" width="3.3" height="3.7" fill="#2a72b8"/>
<rect x="665.92" y="179.2" width="3.3" height="10.3" fill="#2a72b8"/>
<rect x="669.88" y="176.2" width="3.3" height="2.5" fill="#2a72b8"/>
<rect x="673.83" y="176.2" width="3.3" height="4.4" fill="#dc3b4c"/>
<rect x="677.79" y="180.3" width="3.3" height="2.5" fill="#dc3b4c"/>
<rect x="681.74" y="171.1" width="3.3" height="11.0" fill="#2a72b8"/>
<rect x="685.69" y="171.1" width="3.3" height="5.1" fill="#dc3b4c"/>
<rect x="689.65" y="168.2" width="3.3" height="7.6" fill="#2a72b8"/>
<rect x="693.60" y="159.3" width="3.3" height="9.1" fill="#2a72b8"/>
<rect x="697.55" y="138.8" width="3.3" height="20.5" fill="#2a72b8"/>
<rect x="701.51" y="138.8" width="3.3" height="5.9" fill="#dc3b4c"/>
<rect x="705.46" y="143.9" width="3.3" height="1.2" fill="#2f8f9c"/>
<rect x="709.41" y="144.4" width="3.3" height="3.2" fill="#dc3b4c"/>
<rect x="713.37" y="147.6" width="3.3" height="1.2" fill="#d84a58"/>
<rect x="717.32" y="148.3" width="3.3" height="10.3" fill="#dc3b4c"/>
<rect x="721.27" y="158.6" width="3.3" height="2.2" fill="#dc3b4c"/>
<rect x="725.23" y="151.3" width="3.3" height="9.5" fill="#2a72b8"/>
<rect x="729.18" y="147.4" width="3.3" height="3.7" fill="#2a72b8"/>
<rect x="733.13" y="146.6" width="3.3" height="1.0" fill="#d84a58"/>
<rect x="737.09" y="146.7" width="3.3" height="18.3" fill="#dc3b4c"/>
<rect x="741.04" y="154.8" width="3.3" height="11.0" fill="#2a72b8"/>
<rect x="744.99" y="150.4" width="3.3" height="5.1" fill="#2a72b8"/>
<rect x="748.95" y="132.7" width="3.3" height="19.1" fill="#2a72b8"/>
<rect x="752.90" y="132.0" width="3.3" height="8.8" fill="#dc3b4c"/>
<rect x="756.86" y="140.8" width="3.3" height="2.9" fill="#dc3b4c"/>
<rect x="760.81" y="137.9" width="3.3" height="6.6" fill="#2a72b8"/>
<rect x="764.76" y="137.9" width="3.3" height="28.6" fill="#dc3b4c"/>
<rect x="768.72" y="173.1" width="3.3" height="3.7" fill="#dc3b4c"/>
<rect x="772.67" y="176.8" width="3.3" height="8.1" fill="#dc3b4c"/>
<rect x="776.62" y="162.1" width="3.3" height="22.7" fill="#2a72b8"/>
<rect x="780.58" y="162.8" width="3.3" height="22.7" fill="#dc3b4c"/>
<rect x="784.53" y="185.6" width="3.3" height="11.0" fill="#dc3b4c"/>
<rect x="788.48" y="186.3" width="3.3" height="10.3" fill="#2a72b8"/>
<rect x="792.44" y="184.8" width="3.3" height="1.5" fill="#2f8f9c"/>
<rect x="796.39" y="181.8" width="3.3" height="1.0" fill="#2f8f9c"/>
<rect x="800.34" y="183.4" width="3.3" height="13.2" fill="#dc3b4c"/>
<rect x="804.30" y="196.6" width="3.3" height="3.7" fill="#dc3b4c"/>
<rect x="808.25" y="186.3" width="3.3" height="17.6" fill="#2a72b8"/>
<rect x="812.20" y="187.0" width="3.3" height="5.9" fill="#dc3b4c"/>
<rect x="816.16" y="192.9" width="3.3" height="11.0" fill="#dc3b4c"/>
<rect x="820.11" y="195.8" width="3.3" height="8.1" fill="#2a72b8"/>
<rect x="824.06" y="193.6" width="3.3" height="2.2" fill="#2a72b8"/>
<rect x="828.02" y="183.4" width="3.3" height="1.2" fill="#d84a58"/>
<rect x="831.97" y="182.6" width="3.3" height="1.9" fill="#2a72b8"/>
<rect x="835.93" y="169.4" width="3.3" height="13.9" fill="#2a72b8"/>
<rect x="839.88" y="162.1" width="3.3" height="8.1" fill="#2a72b8"/>
<rect x="843.83" y="153.3" width="3.3" height="9.5" fill="#2a72b8"/>
<rect x="847.79" y="157.0" width="3.3" height="8.8" fill="#2a72b8"/>
<rect x="851.74" y="157.0" width="3.3" height="5.1" fill="#dc3b4c"/>
<rect x="855.69" y="156.2" width="3.3" height="5.1" fill="#2a72b8"/>
<rect x="859.65" y="144.5" width="3.3" height="11.7" fill="#2a72b8"/>
<rect x="863.60" y="132.0" width="3.3" height="12.5" fill="#2a72b8"/>
<rect x="867.55" y="136.4" width="3.3" height="2.9" fill="#2a72b8"/>
<rect x="871.51" y="134.2" width="3.3" height="1.5" fill="#2f8f9c"/>
<rect x="875.46" y="120.3" width="3.3" height="13.9" fill="#2a72b8"/>
<rect x="879.41" y="121.0" width="3.3" height="13.9" fill="#dc3b4c"/>
<rect x="883.37" y="134.9" width="3.3" height="5.1" fill="#dc3b4c"/>
<rect x="887.32" y="136.4" width="3.3" height="1.5" fill="#2f8f9c"/>
<rect x="891.27" y="136.4" width="3.3" height="12.5" fill="#dc3b4c"/>
<rect x="895.23" y="148.2" width="3.3" height="5.1" fill="#dc3b4c"/>
<rect x="899.18" y="151.5" width="3.3" height="1.8" fill="#2a72b8"/>
<rect x="903.13" y="148.2" width="3.3" height="2.9" fill="#2a72b8"/>
<rect x="907.09" y="144.5" width="3.3" height="16.9" fill="#dc3b4c"/>
<rect x="911.04" y="159.2" width="3.3" height="1.5" fill="#d84a58"/>
<rect x="915.00" y="157.8" width="3.3" height="2.9" fill="#2a72b8"/>
<rect x="918.95" y="157.8" width="3.3" height="10.3" fill="#dc3b4c"/>
<rect x="922.90" y="131.4" width="3.3" height="37.4" fill="#2a72b8"/>
<rect x="926.86" y="117.4" width="3.3" height="9.5" fill="#2a72b8"/>
<rect x="930.81" y="117.4" width="3.3" height="7.3" fill="#dc3b4c"/>
<rect x="934.76" y="124.8" width="3.3" height="2.2" fill="#dc3b4c"/>
<rect x="938.72" y="127.0" width="3.3" height="1.2" fill="#d84a58"/>
<rect x="942.67" y="128.1" width="3.3" height="1.0" fill="#d84a58"/>
<rect x="946.62" y="124.0" width="3.3" height="5.9" fill="#2a72b8"/>
<rect x="950.58" y="104.2" width="3.3" height="19.1" fill="#2a72b8"/>
<rect x="954.53" y="98.3" width="3.3" height="5.9" fill="#2a72b8"/>
<rect x="958.48" y="98.3" width="3.3" height="12.5" fill="#dc3b4c"/>
<rect x="962.44" y="93.9" width="3.3" height="16.9" fill="#2a72b8"/>
<rect x="966.39" y="75.0" width="3.3" height="19.1" fill="#2a72b8"/>
<rect x="970.34" y="61.1" width="3.3" height="14.7" fill="#2a72b8"/>
<rect x="974.30" y="54.5" width="3.3" height="6.6" fill="#2a72b8"/>
<rect x="978.25" y="54.5" width="3.3" height="12.5" fill="#dc3b4c"/>
<rect x="982.20" y="42.0" width="3.3" height="24.9" fill="#2a72b8"/>
<rect x="986.16" y="42.7" width="3.3" height="8.1" fill="#dc3b4c"/>
<rect x="990.11" y="43.5" width="3.3" height="7.3" fill="#2a72b8"/>
<rect x="994.07" y="44.2" width="3.3" height="19.8" fill="#dc3b4c"/>
<rect x="998.02" y="64.0" width="3.3" height="13.2" fill="#dc3b4c"/>
<rect x="1001.97" y="77.5" width="3.3" height="10.3" fill="#dc3b4c"/>
<rect x="1005.93" y="79.4" width="3.3" height="8.8" fill="#2a72b8"/>
<rect x="1009.88" y="79.4" width="3.3" height="8.8" fill="#dc3b4c"/>
<rect x="1013.83" y="75.8" width="3.3" height="13.2" fill="#2a72b8"/>
<rect x="1017.79" y="67.0" width="3.3" height="8.8" fill="#2a72b8"/>
<rect x="1021.74" y="67.0" width="3.3" height="8.8" fill="#dc3b4c"/>
<rect x="1025.69" y="75.8" width="3.3" height="15.0" fill="#dc3b4c"/>
<rect x="1029.65" y="90.7" width="3.3" height="5.6" fill="#dc3b4c"/>
<rect x="1033.60" y="96.3" width="3.3" height="2.2" fill="#dc3b4c"/>
<rect x="1037.55" y="78.7" width="3.3" height="19.8" fill="#2a72b8"/>
<rect x="1041.51" y="78.0" width="3.3" height="1.0" fill="#d84a58"/>
<rect x="1045.46" y="59.9" width="3.3" height="18.0" fill="#2a72b8"/>
<rect x="1049.41" y="59.9" width="3.3" height="6.3" fill="#dc3b4c"/>
<rect x="1053.37" y="64.8" width="3.3" height="1.5" fill="#2f8f9c"/>
<rect x="1057.32" y="50.8" width="3.3" height="13.9" fill="#2a72b8"/>
<rect x="1061.27" y="50.5" width="3.3" height="1.0" fill="#d84a58"/>
<rect x="1065.23" y="52.3" width="3.3" height="14.7" fill="#dc3b4c"/>
<rect x="1069.18" y="44.9" width="3.3" height="22.0" fill="#2a72b8"/>
<rect x="1073.13" y="45.2" width="3.3" height="14.7" fill="#dc3b4c"/>
<rect x="1077.09" y="46.1" width="3.3" height="13.8" fill="#2a72b8"/>
<rect x="1081.04" y="46.1" width="3.3" height="5.0" fill="#dc3b4c"/>
<rect x="1085.00" y="54.9" width="3.3" height="4.7" fill="#dc3b4c"/>
<rect x="1088.95" y="58.9" width="3.3" height="21.3" fill="#dc3b4c"/>
<rect x="1092.90" y="80.5" width="3.3" height="7.0" fill="#dc3b4c"/>
<rect x="1096.86" y="87.5" width="3.3" height="5.1" fill="#dc3b4c"/>
<rect x="1100.81" y="92.6" width="3.3" height="19.1" fill="#dc3b4c"/>
<rect x="1104.76" y="109.8" width="3.3" height="4.1" fill="#2a72b8"/>
<rect x="1108.72" y="108.0" width="3.3" height="1.8" fill="#2a72b8"/>
<rect x="1112.67" y="108.0" width="3.3" height="13.2" fill="#dc3b4c"/>
<rect x="1116.62" y="121.7" width="3.3" height="1.0" fill="#d84a58"/>
<rect x="1120.58" y="122.0" width="3.3" height="1.0" fill="#d84a58"/>
<rect x="1124.53" y="123.5" width="3.3" height="7.3" fill="#dc3b4c"/>
<rect x="1128.48" y="130.8" width="3.3" height="5.9" fill="#dc3b4c"/>
<rect x="1132.44" y="136.7" width="3.3" height="9.1" fill="#dc3b4c"/>
<rect x="1136.39" y="145.8" width="3.3" height="10.0" fill="#dc3b4c"/>
<rect x="1140.34" y="145.2" width="3.3" height="10.6" fill="#2a72b8"/>
<rect x="1144.30" y="146.2" width="3.3" height="14.2" fill="#dc3b4c"/>
<rect x="1148.25" y="160.9" width="3.3" height="5.9" fill="#dc3b4c"/>
<rect x="1152.20" y="166.8" width="3.3" height="5.1" fill="#dc3b4c"/>
<rect x="1156.16" y="156.5" width="3.3" height="15.4" fill="#2a72b8"/>
<rect x="1160.11" y="156.5" width="3.3" height="11.0" fill="#dc3b4c"/>
<rect x="1164.07" y="161.9" width="3.3" height="6.7" fill="#2a72b8"/>
<rect x="1168.02" y="159.9" width="3.3" height="1.8" fill="#2a72b8"/>
<rect x="1171.97" y="147.7" width="3.3" height="12.5" fill="#2a72b8"/>
<rect x="1175.93" y="138.9" width="3.3" height="8.8" fill="#2a72b8"/>
<rect x="1179.88" y="138.9" width="3.3" height="16.9" fill="#dc3b4c"/>
<rect x="1183.83" y="138.9" width="3.3" height="1.5" fill="#2f8f9c"/>
<rect x="1187.79" y="122.7" width="3.3" height="18.3" fill="#2a72b8"/>
<rect x="1191.74" y="124.2" width="3.3" height="64.6" fill="#dc3b4c"/>
<rect x="1195.69" y="165.3" width="3.3" height="23.5" fill="#2a72b8"/>
<rect x="1199.65" y="164.6" width="3.3" height="27.1" fill="#dc3b4c"/>
<rect x="1203.60" y="196.0" width="3.3" height="17.2" fill="#dc3b4c"/>
<rect x="1207.55" y="213.2" width="3.3" height="8.8" fill="#dc3b4c"/>
<rect x="1211.51" y="222.0" width="3.3" height="19.1" fill="#dc3b4c"/>
<rect x="1215.46" y="241.1" width="3.3" height="11.0" fill="#dc3b4c"/>
<rect x="1219.41" y="249.2" width="3.3" height="2.9" fill="#2a72b8"/>
<rect x="1223.37" y="229.3" width="3.3" height="22.7" fill="#2a72b8"/>
<rect x="1227.32" y="229.3" width="3.3" height="1.2" fill="#d84a58"/>
<rect x="1231.27" y="230.1" width="3.3" height="16.9" fill="#dc3b4c"/>
<rect x="1235.23" y="247.0" width="3.3" height="22.7" fill="#dc3b4c"/>
<rect x="1239.18" y="269.0" width="3.3" height="19.1" fill="#dc3b4c"/>
<rect x="1243.14" y="262.8" width="3.3" height="4.0" fill="#2a72b8"/>
<rect x="1247.09" y="262.8" width="3.3" height="1.8" fill="#dc3b4c"/>
<rect x="1251.04" y="239.9" width="3.3" height="24.7" fill="#2a72b8"/>
<rect x="1255.00" y="239.6" width="3.3" height="5.1" fill="#dc3b4c"/>
<rect x="1258.95" y="237.4" width="3.3" height="6.6" fill="#2a72b8"/>
<rect x="1262.90" y="239.6" width="3.3" height="22.0" fill="#dc3b4c"/>
<rect x="1266.86" y="251.1" width="3.3" height="10.6" fill="#2a72b8"/>
</g>
<path d="M3.7,143.6 L7.3,145.2 L11.3,148.0 L15.2,150.5 L19.2,152.4 L23.2,154.4 L27.1,156.6 L31.1,158.7 L35.0,160.9 L39.0,163.7 L42.9,166.6 L46.9,170.2 L50.8,173.0 L54.8,175.5 L58.7,179.1 L62.7,182.8 L66.6,185.8 L70.6,188.1 L74.5,189.9 L78.5,191.9 L82.5,193.3 L86.4,194.5 L90.4,196.7 L94.3,199.2 L98.3,200.8 L102.2,202.3 L106.2,204.1 L110.1,205.3 L114.1,206.4 L118.0,206.3 L122.0,207.4 L125.9,208.6 L129.9,209.9 L133.9,211.2 L137.8,211.7 L141.8,212.7 L145.7,213.7 L149.7,214.0 L153.6,213.0 L157.6,212.2 L161.5,211.6 L165.5,210.9 L169.4,210.8 L173.4,210.5 L177.3,210.0 L181.3,207.2 L185.2,205.0 L189.2,202.8 L193.2,200.0 L197.1,196.9 L201.1,194.3 L205.0,192.1 L209.0,189.8 L212.9,187.2 L216.9,184.5 L220.8,181.3 L224.8,178.6 L228.7,177.0 L232.7,175.6 L236.6,174.7 L240.6,174.4 L244.6,174.5 L248.5,174.2 L252.5,174.4 L256.4,174.5 L260.4,174.2 L264.3,172.9 L268.3,170.2 L272.2,168.9 L276.2,167.2 L280.1,164.9 L284.1,163.2 L288.0,160.7 L292.0,158.2 L295.9,155.9 L299.9,153.3 L303.9,150.0 L307.8,147.4 L311.8,145.1 L315.7,143.0 L319.7,142.2 L323.6,141.6 L327.6,140.7 L331.5,140.0 L335.5,139.1 L339.4,138.6 L343.4,137.5 L347.3,136.5 L351.3,135.8 L355.2,135.1 L359.2,135.3 L363.2,135.5 L367.1,135.7 L371.1,135.7 L375.0,135.9 L379.0,136.4 L382.9,136.5 L386.9,137.1 L390.8,137.5 L394.8,138.3 L398.7,138.7 L402.7,139.6 L406.6,139.7 L410.6,140.9 L414.6,142.6 L418.5,144.1 L422.5,145.3 L426.4,146.4 L430.4,147.3 L434.3,148.4 L438.3,150.2 L442.2,151.7 L446.2,152.6 L450.1,153.4 L454.1,154.2 L458.0,154.5 L462.0,154.7 L465.9,154.8 L469.9,155.0 L473.9,154.8 L477.8,154.7 L481.8,154.7 L485.7,155.0 L489.7,155.0 L493.6,154.7 L497.6,154.4 L501.5,153.6 L505.5,152.2 L509.4,151.1 L513.4,150.1 L517.3,149.1 L521.3,147.9 L525.2,147.6 L529.2,147.2 L533.2,147.0 L537.1,146.9 L541.1,146.1 L545.0,146.1 L549.0,146.8 L552.9,147.1 L556.9,147.4 L560.8,147.8 L564.8,148.7 L568.7,149.4 L572.7,150.8 L576.6,151.7 L580.6,151.8 L584.6,151.9 L588.5,151.9 L592.5,151.7 L596.4,151.5 L600.4,152.8 L604.3,154.2 L608.3,156.6 L612.2,159.2 L616.2,161.7 L620.1,163.4 L624.1,165.5 L628.0,167.3 L632.0,169.1 L635.9,170.2 L639.9,171.2 L643.9,171.9 L647.8,173.0 L651.8,173.6 L655.7,175.0 L659.7,175.8 L663.6,176.3 L667.6,176.4 L671.5,176.4 L675.5,176.6 L679.4,176.8 L683.4,176.6 L687.3,176.6 L691.3,176.2 L695.2,175.6 L699.2,174.1 L703.2,173.0 L707.1,171.8 L711.1,170.9 L715.0,170.0 L719.0,169.6 L722.9,169.2 L726.9,168.5 L730.8,167.7 L734.8,166.9 L738.7,166.8 L742.7,166.4 L746.6,165.7 L750.6,164.4 L754.6,163.5 L758.5,162.7 L762.5,161.8 L766.4,161.9 L770.4,162.5 L774.3,163.4 L778.3,163.4 L782.2,164.2 L786.2,165.5 L790.1,166.3 L794.1,167.0 L798.0,167.6 L802.0,168.8 L805.9,170.0 L809.9,170.6 L813.9,171.5 L817.8,172.8 L821.8,173.7 L825.7,174.5 L829.7,174.9 L833.6,175.2 L837.6,174.9 L841.5,174.4 L845.5,173.6 L849.4,173.0 L853.4,172.5 L857.3,171.9 L861.3,170.8 L865.2,169.3 L869.2,168.0 L873.2,166.7 L877.1,164.9 L881.1,163.7 L885.0,162.8 L889.0,161.7 L892.9,161.2 L896.9,160.9 L900.8,160.5 L904.8,160.1 L908.7,160.1 L912.7,160.1 L916.6,160.0 L920.6,160.4 L924.6,159.2 L928.5,157.6 L932.5,156.3 L936.4,155.1 L940.4,154.1 L944.3,153.1 L948.3,152.0 L952.2,150.1 L956.2,148.1 L960.1,146.6 L964.1,144.5 L968.0,141.8 L972.0,138.6 L975.9,135.3 L979.9,132.7 L983.9,129.1 L987.8,126.0 L991.8,122.8 L995.7,120.5 L999.7,118.8 L1003.6,117.6 L1007.6,116.1 L1011.5,115.0 L1015.5,113.5 L1019.4,111.6 L1023.4,110.2 L1027.3,109.5 L1031.3,108.9 L1035.2,108.5 L1039.2,107.4 L1043.2,106.2 L1047.1,104.4 L1051.1,102.9 L1055.0,101.4 L1059.0,99.5 L1062.9,97.6 L1066.9,96.4 L1070.8,94.4 L1074.8,93.0 L1078.7,91.2 L1082.7,89.6 L1086.6,88.4 L1090.6,88.1 L1094.6,88.1 L1098.5,88.2 L1102.5,89.2 L1106.4,90.0 L1110.4,90.7 L1114.3,91.9 L1118.3,93.1 L1122.2,94.3 L1126.2,95.7 L1130.1,97.3 L1134.1,99.2 L1138.0,101.4 L1142.0,103.1 L1145.9,105.4 L1149.9,107.8 L1153.9,110.3 L1157.8,112.1 L1161.8,114.3 L1165.7,116.2 L1169.7,117.9 L1173.6,119.0 L1177.6,119.8 L1181.5,121.2 L1185.5,121.9 L1189.4,122.0 L1193.4,124.6 L1197.3,126.2 L1201.3,128.7 L1205.3,132.1 L1209.2,135.6 L1213.2,139.7 L1217.1,144.1 L1221.1,148.2 L1225.0,151.4 L1229.0,154.5 L1232.9,158.1 L1236.9,162.5 L1240.8,167.4 L1244.8,171.2 L1248.7,174.8 L1252.7,177.4 L1256.6,180.0 L1260.6,182.3 L1264.6,185.4 L1268.5,188.0" fill="none" stroke="#6a80d2" stroke-width="0.95" stroke-linejoin="round"/>
<path d="M3.7,143.0 L7.3,143.9 L11.3,145.3 L15.2,146.6 L19.2,147.7 L23.2,148.8 L27.1,150.0 L31.1,151.2 L35.0,152.4 L39.0,154.0 L42.9,155.7 L46.9,157.7 L50.8,159.4 L54.8,160.9 L58.7,163.0 L62.7,165.2 L66.6,167.0 L70.6,168.6 L74.5,169.9 L78.5,171.3 L82.5,172.4 L86.4,173.4 L90.4,175.0 L94.3,176.6 L98.3,177.9 L102.2,179.1 L106.2,180.5 L110.1,181.6 L114.1,182.6 L118.0,183.0 L122.0,184.0 L125.9,185.1 L129.9,186.2 L133.9,187.3 L137.8,188.1 L141.8,189.0 L145.7,190.0 L149.7,190.6 L153.6,190.6 L157.6,190.6 L161.5,190.8 L165.5,190.8 L169.4,191.2 L173.4,191.4 L177.3,191.5 L181.3,190.5 L185.2,189.7 L189.2,188.9 L193.2,187.8 L197.1,186.4 L201.1,185.3 L205.0,184.4 L209.0,183.4 L212.9,182.2 L216.9,180.9 L220.8,179.4 L224.8,178.1 L228.7,177.3 L232.7,176.5 L236.6,176.1 L240.6,175.9 L244.6,175.9 L248.5,175.8 L252.5,175.8 L256.4,175.8 L260.4,175.7 L264.3,175.0 L268.3,173.6 L272.2,172.8 L276.2,171.9 L280.1,170.7 L284.1,169.7 L288.0,168.3 L292.0,166.9 L295.9,165.6 L299.9,164.0 L303.9,162.2 L307.8,160.6 L311.8,159.2 L315.7,157.8 L319.7,157.1 L323.6,156.5 L327.6,155.8 L331.5,155.1 L335.5,154.4 L339.4,153.8 L343.4,153.0 L347.3,152.2 L351.3,151.5 L355.2,150.8 L359.2,150.6 L363.2,150.4 L367.1,150.3 L371.1,150.0 L375.0,149.7 L379.0,149.7 L382.9,149.5 L386.9,149.5 L390.8,149.6 L394.8,149.7 L398.7,149.7 L402.7,149.9 L406.6,149.8 L410.6,150.2 L414.6,150.8 L418.5,151.4 L422.5,151.9 L426.4,152.3 L430.4,152.7 L434.3,153.1 L438.3,153.9 L442.2,154.6 L446.2,155.0 L450.1,155.3 L454.1,155.7 L458.0,155.9 L462.0,155.9 L465.9,156.0 L469.9,156.0 L473.9,155.9 L477.8,155.8 L481.8,155.8 L485.7,156.0 L489.7,155.9 L493.6,155.8 L497.6,155.6 L501.5,155.2 L505.5,154.4 L509.4,153.8 L513.4,153.3 L517.3,152.7 L521.3,152.0 L525.2,151.8 L529.2,151.5 L533.2,151.3 L537.1,151.2 L541.1,150.7 L545.0,150.6 L549.0,150.9 L552.9,150.9 L556.9,151.0 L560.8,151.1 L564.8,151.5 L568.7,151.8 L572.7,152.5 L576.6,152.9 L580.6,153.0 L584.6,152.9 L588.5,152.9 L592.5,152.8 L596.4,152.7 L600.4,153.3 L604.3,154.0 L608.3,155.3 L612.2,156.6 L616.2,157.9 L620.1,158.8 L624.1,160.0 L628.0,161.0 L632.0,162.0 L635.9,162.7 L639.9,163.4 L643.9,163.9 L647.8,164.6 L651.8,165.1 L655.7,165.9 L659.7,166.5 L663.6,167.0 L667.6,167.2 L671.5,167.4 L675.5,167.6 L679.4,167.9 L683.4,168.0 L687.3,168.2 L691.3,168.2 L695.2,168.0 L699.2,167.4 L703.2,167.0 L707.1,166.5 L711.1,166.1 L715.0,165.8 L719.0,165.6 L722.9,165.5 L726.9,165.3 L730.8,164.9 L734.8,164.6 L738.7,164.6 L742.7,164.4 L746.6,164.1 L750.6,163.5 L754.6,163.0 L758.5,162.7 L762.5,162.2 L766.4,162.2 L770.4,162.5 L774.3,163.0 L778.3,163.0 L782.2,163.4 L786.2,164.1 L790.1,164.5 L794.1,164.9 L798.0,165.2 L802.0,165.9 L805.9,166.5 L809.9,166.9 L813.9,167.5 L817.8,168.2 L821.8,168.7 L825.7,169.2 L829.7,169.5 L833.6,169.8 L837.6,169.8 L841.5,169.6 L845.5,169.3 L849.4,169.1 L853.4,168.9 L857.3,168.7 L861.3,168.2 L865.2,167.5 L869.2,166.9 L873.2,166.2 L877.1,165.3 L881.1,164.7 L885.0,164.2 L889.0,163.7 L892.9,163.4 L896.9,163.2 L900.8,162.9 L904.8,162.6 L908.7,162.6 L912.7,162.6 L916.6,162.5 L920.6,162.6 L924.6,162.0 L928.5,161.1 L932.5,160.4 L936.4,159.7 L940.4,159.1 L944.3,158.5 L948.3,157.8 L952.2,156.7 L956.2,155.6 L960.1,154.7 L964.1,153.5 L968.0,151.9 L972.0,150.1 L975.9,148.3 L979.9,146.6 L983.9,144.6 L987.8,142.7 L991.8,140.8 L995.7,139.2 L999.7,138.0 L1003.6,137.0 L1007.6,135.9 L1011.5,134.9 L1015.5,133.8 L1019.4,132.4 L1023.4,131.3 L1027.3,130.5 L1031.3,129.8 L1035.2,129.2 L1039.2,128.2 L1043.2,127.2 L1047.1,125.9 L1051.1,124.7 L1055.0,123.5 L1059.0,122.1 L1062.9,120.7 L1066.9,119.6 L1070.8,118.1 L1074.8,117.0 L1078.7,115.6 L1082.7,114.3 L1086.6,113.2 L1090.6,112.6 L1094.6,112.1 L1098.5,111.7 L1102.5,111.7 L1106.4,111.7 L1110.4,111.6 L1114.3,111.8 L1118.3,112.0 L1122.2,112.2 L1126.2,112.6 L1130.1,113.1 L1134.1,113.7 L1138.0,114.5 L1142.0,115.1 L1145.9,116.0 L1149.9,117.0 L1153.9,118.1 L1157.8,118.9 L1161.8,119.9 L1165.7,120.7 L1169.7,121.5 L1173.6,122.0 L1177.6,122.3 L1181.5,123.0 L1185.5,123.3 L1189.4,123.3 L1193.4,124.6 L1197.3,125.4 L1201.3,126.7 L1205.3,128.4 L1209.2,130.3 L1213.2,132.5 L1217.1,134.8 L1221.1,137.1 L1225.0,138.9 L1229.0,140.7 L1232.9,142.8 L1236.9,145.3 L1240.8,148.2 L1244.8,150.4 L1248.7,152.7 L1252.7,154.4 L1256.6,156.2 L1260.6,157.8 L1264.6,159.9 L1268.5,161.7" fill="none" stroke="#1a1a1a" stroke-width="1.05" stroke-linejoin="round"/>
<g id="macd">
<line x1="1271.9" x2="1290.5" y1="421.8" y2="421.8" stroke="#d4d6db" stroke-width="1" stroke-dasharray="4.1 4.3"/>
<g shape-rendering="auto">
<rect x="5.74" y="421.8" width="3.2" height="5.1" fill="#ffcdd2"/>
<rect x="9.69" y="421.8" width="3.2" height="6.4" fill="#f05350"/>
<rect x="13.65" y="421.8" width="3.2" height="5.8" fill="#f05350"/>
<rect x="17.60" y="421.8" width="3.2" height="3.3" fill="#ffcdd2"/>
<rect x="21.55" y="421.8" width="3.2" height="1.6" fill="#ffcdd2"/>
<rect x="25.51" y="421.8" width="3.2" height="1.0" fill="#ffcdd2"/>
<rect x="29.46" y="421.8" width="3.2" height="0.6" fill="#ffcdd2"/>
<rect x="33.41" y="421.8" width="3.2" height="0.6" fill="#ffcdd2"/>
<rect x="37.37" y="421.8" width="3.2" height="1.9" fill="#f05350"/>
<rect x="41.32" y="421.8" width="3.2" height="3.4" fill="#f05350"/>
<rect x="45.27" y="421.8" width="3.2" height="6.9" fill="#f05350"/>
<rect x="49.23" y="421.8" width="3.2" height="5.6" fill="#ffcdd2"/>
<rect x="53.18" y="421.8" width="3.2" height="3.6" fill="#ffcdd2"/>
<rect x="57.14" y="421.8" width="3.2" height="6.1" fill="#f05350"/>
<rect x="61.09" y="421.8" width="3.2" height="7.5" fill="#f05350"/>
<rect x="65.04" y="421.8" width="3.2" height="5.8" fill="#ffcdd2"/>
<rect x="69.00" y="421.8" width="3.2" height="1.9" fill="#ffcdd2"/>
<rect x="72.95" y="419.1" width="3.2" height="2.7" fill="#26a69a"/>
<rect x="76.90" y="416.7" width="3.2" height="5.1" fill="#26a69a"/>
<rect x="80.86" y="413.2" width="3.2" height="8.6" fill="#26a69a"/>
<rect x="84.81" y="410.5" width="3.2" height="11.3" fill="#26a69a"/>
<rect x="88.76" y="413.0" width="3.2" height="8.8" fill="#b2dfdb"/>
<rect x="92.72" y="415.6" width="3.2" height="6.2" fill="#b2dfdb"/>
<rect x="96.67" y="414.7" width="3.2" height="7.1" fill="#26a69a"/>
<rect x="100.62" y="413.5" width="3.2" height="8.3" fill="#26a69a"/>
<rect x="104.58" y="414.6" width="3.2" height="7.2" fill="#b2dfdb"/>
<rect x="108.53" y="413.3" width="3.2" height="8.5" fill="#26a69a"/>
<rect x="112.48" y="412.2" width="3.2" height="9.6" fill="#26a69a"/>
<rect x="116.44" y="408.0" width="3.2" height="13.8" fill="#26a69a"/>
<rect x="120.39" y="409.6" width="3.2" height="12.2" fill="#b2dfdb"/>
<rect x="124.35" y="412.1" width="3.2" height="9.7" fill="#b2dfdb"/>
<rect x="128.30" y="414.1" width="3.2" height="7.7" fill="#b2dfdb"/>
<rect x="132.25" y="415.8" width="3.2" height="6.0" fill="#b2dfdb"/>
<rect x="136.21" y="414.4" width="3.2" height="7.4" fill="#26a69a"/>
<rect x="140.16" y="415.6" width="3.2" height="6.2" fill="#b2dfdb"/>
<rect x="144.11" y="416.7" width="3.2" height="5.1" fill="#b2dfdb"/>
<rect x="148.07" y="415.2" width="3.2" height="6.6" fill="#26a69a"/>
<rect x="152.02" y="409.7" width="3.2" height="12.1" fill="#26a69a"/>
<rect x="155.97" y="407.3" width="3.2" height="14.5" fill="#26a69a"/>
<rect x="159.93" y="407.4" width="3.2" height="14.4" fill="#b2dfdb"/>
<rect x="163.88" y="407.6" width="3.2" height="14.2" fill="#b2dfdb"/>
<rect x="167.83" y="410.4" width="3.2" height="11.4" fill="#b2dfdb"/>
<rect x="171.79" y="412.0" width="3.2" height="9.8" fill="#b2dfdb"/>
<rect x="175.74" y="413.1" width="3.2" height="8.7" fill="#b2dfdb"/>
<rect x="179.69" y="406.0" width="3.2" height="15.8" fill="#26a69a"/>
<rect x="183.65" y="404.0" width="3.2" height="17.8" fill="#26a69a"/>
<rect x="187.60" y="403.6" width="3.2" height="18.2" fill="#26a69a"/>
<rect x="191.55" y="402.0" width="3.2" height="19.8" fill="#26a69a"/>
<rect x="195.51" y="400.8" width="3.2" height="21.0" fill="#26a69a"/>
<rect x="199.46" y="402.8" width="3.2" height="19.0" fill="#b2dfdb"/>
<rect x="203.42" y="406.4" width="3.2" height="15.4" fill="#b2dfdb"/>
<rect x="207.37" y="409.2" width="3.2" height="12.6" fill="#b2dfdb"/>
<rect x="211.32" y="410.6" width="3.2" height="11.2" fill="#b2dfdb"/>
<rect x="215.28" y="411.6" width="3.2" height="10.2" fill="#b2dfdb"/>
<rect x="219.23" y="411.5" width="3.2" height="10.3" fill="#26a69a"/>
<rect x="223.18" y="413.4" width="3.2" height="8.4" fill="#b2dfdb"/>
<rect x="227.14" y="419.3" width="3.2" height="2.5" fill="#b2dfdb"/>
<rect x="231.09" y="421.8" width="3.2" height="2.1" fill="#f05350"/>
<rect x="235.04" y="421.8" width="3.2" height="7.2" fill="#f05350"/>
<rect x="239.00" y="421.8" width="3.2" height="12.3" fill="#f05350"/>
<rect x="242.95" y="421.8" width="3.2" height="16.8" fill="#f05350"/>
<rect x="246.90" y="421.8" width="3.2" height="17.8" fill="#f05350"/>
<rect x="250.86" y="421.8" width="3.2" height="19.4" fill="#f05350"/>
<rect x="254.81" y="421.8" width="3.2" height="19.4" fill="#ffcdd2"/>
<rect x="258.76" y="421.8" width="3.2" height="17.4" fill="#ffcdd2"/>
<rect x="262.72" y="421.8" width="3.2" height="11.9" fill="#ffcdd2"/>
<rect x="266.67" y="421.8" width="3.2" height="2.6" fill="#ffcdd2"/>
<rect x="270.62" y="421.8" width="3.2" height="1.4" fill="#ffcdd2"/>
<rect x="274.58" y="421.2" width="3.2" height="0.6" fill="#26a69a"/>
<rect x="278.53" y="417.7" width="3.2" height="4.1" fill="#26a69a"/>
<rect x="282.48" y="417.6" width="3.2" height="4.2" fill="#26a69a"/>
<rect x="286.44" y="414.9" width="3.2" height="6.9" fill="#26a69a"/>
<rect x="290.39" y="413.7" width="3.2" height="8.1" fill="#26a69a"/>
<rect x="294.35" y="413.9" width="3.2" height="7.9" fill="#b2dfdb"/>
<rect x="298.30" y="413.1" width="3.2" height="8.7" fill="#26a69a"/>
<rect x="302.25" y="410.5" width="3.2" height="11.3" fill="#26a69a"/>
<rect x="306.21" y="411.8" width="3.2" height="10.0" fill="#b2dfdb"/>
<rect x="310.16" y="414.5" width="3.2" height="7.3" fill="#b2dfdb"/>
<rect x="314.11" y="417.1" width="3.2" height="4.7" fill="#b2dfdb"/>
<rect x="318.07" y="421.8" width="3.2" height="1.8" fill="#f05350"/>
<rect x="322.02" y="421.8" width="3.2" height="7.0" fill="#f05350"/>
<rect x="325.97" y="421.8" width="3.2" height="9.2" fill="#f05350"/>
<rect x="329.93" y="421.8" width="3.2" height="10.6" fill="#f05350"/>
<rect x="333.88" y="421.8" width="3.2" height="10.8" fill="#f05350"/>
<rect x="337.83" y="421.8" width="3.2" height="11.5" fill="#f05350"/>
<rect x="341.79" y="421.8" width="3.2" height="9.7" fill="#ffcdd2"/>
<rect x="345.74" y="421.8" width="3.2" height="8.4" fill="#ffcdd2"/>
<rect x="349.69" y="421.8" width="3.2" height="8.3" fill="#ffcdd2"/>
<rect x="353.65" y="421.8" width="3.2" height="7.9" fill="#ffcdd2"/>
<rect x="357.60" y="421.8" width="3.2" height="10.7" fill="#f05350"/>
<rect x="361.55" y="421.8" width="3.2" height="11.9" fill="#f05350"/>
<rect x="365.51" y="421.8" width="3.2" height="12.3" fill="#f05350"/>
<rect x="369.46" y="421.8" width="3.2" height="11.2" fill="#ffcdd2"/>
<rect x="373.42" y="421.8" width="3.2" height="10.5" fill="#ffcdd2"/>
<rect x="377.37" y="421.8" width="3.2" height="11.0" fill="#f05350"/>
<rect x="381.32" y="421.8" width="3.2" height="9.3" fill="#ffcdd2"/>
<rect x="385.28" y="421.8" width="3.2" height="9.4" fill="#f05350"/>
<rect x="389.23" y="421.8" width="3.2" height="8.7" fill="#ffcdd2"/>
<rect x="393.18" y="421.8" width="3.2" height="8.7" fill="#ffcdd2"/>
<rect x="397.14" y="421.8" width="3.2" height="7.5" fill="#ffcdd2"/>
<rect x="401.09" y="421.8" width="3.2" height="7.6" fill="#f05350"/>
<rect x="405.04" y="421.8" width="3.2" height="4.7" fill="#ffcdd2"/>
<rect x="409.00" y="421.8" width="3.2" height="6.4" fill="#f05350"/>
<rect x="412.95" y="421.8" width="3.2" height="9.0" fill="#f05350"/>
<rect x="416.90" y="421.8" width="3.2" height="9.4" fill="#f05350"/>
<rect x="420.86" y="421.8" width="3.2" height="8.2" fill="#ffcdd2"/>
<rect x="424.81" y="421.8" width="3.2" height="6.6" fill="#ffcdd2"/>
<rect x="428.76" y="421.8" width="3.2" height="4.8" fill="#ffcdd2"/>
<rect x="432.72" y="421.8" width="3.2" height="3.7" fill="#ffcdd2"/>
<rect x="436.67" y="421.8" width="3.2" height="5.5" fill="#f05350"/>
<rect x="440.62" y="421.8" width="3.2" height="5.2" fill="#ffcdd2"/>
<rect x="444.58" y="421.8" width="3.2" height="2.5" fill="#ffcdd2"/>
<rect x="448.53" y="421.8" width="3.2" height="0.6" fill="#ffcdd2"/>
<rect x="452.49" y="420.3" width="3.2" height="1.5" fill="#26a69a"/>
<rect x="456.44" y="417.7" width="3.2" height="4.1" fill="#26a69a"/>
<rect x="460.39" y="415.5" width="3.2" height="6.3" fill="#26a69a"/>
<rect x="464.35" y="414.1" width="3.2" height="7.7" fill="#26a69a"/>
<rect x="468.30" y="413.6" width="3.2" height="8.2" fill="#26a69a"/>
<rect x="472.25" y="412.1" width="3.2" height="9.7" fill="#26a69a"/>
<rect x="476.21" y="411.8" width="3.2" height="10.0" fill="#26a69a"/>
<rect x="480.16" y="412.3" width="3.2" height="9.5" fill="#b2dfdb"/>
<rect x="484.11" y="414.5" width="3.2" height="7.3" fill="#b2dfdb"/>
<rect x="488.07" y="414.7" width="3.2" height="7.1" fill="#b2dfdb"/>
<rect x="492.02" y="414.2" width="3.2" height="7.6" fill="#26a69a"/>
<rect x="495.97" y="414.1" width="3.2" height="7.7" fill="#26a69a"/>
<rect x="499.93" y="412.5" width="3.2" height="9.3" fill="#26a69a"/>
<rect x="503.88" y="409.9" width="3.2" height="11.9" fill="#26a69a"/>
<rect x="507.83" y="409.4" width="3.2" height="12.4" fill="#26a69a"/>
<rect x="511.79" y="410.2" width="3.2" height="11.6" fill="#b2dfdb"/>
<rect x="515.74" y="411.2" width="3.2" height="10.6" fill="#b2dfdb"/>
<rect x="519.70" y="411.6" width="3.2" height="10.2" fill="#b2dfdb"/>
<rect x="523.65" y="415.4" width="3.2" height="6.4" fill="#b2dfdb"/>
<rect x="527.60" y="418.0" width="3.2" height="3.8" fill="#b2dfdb"/>
<rect x="531.56" y="420.7" width="3.2" height="1.1" fill="#b2dfdb"/>
<rect x="535.51" y="421.8" width="3.2" height="1.0" fill="#f05350"/>
<rect x="539.46" y="421.7" width="3.2" height="0.6" fill="#26a69a"/>
<rect x="543.42" y="421.8" width="3.2" height="2.1" fill="#f05350"/>
<rect x="547.37" y="421.8" width="3.2" height="5.8" fill="#f05350"/>
<rect x="551.32" y="421.8" width="3.2" height="6.6" fill="#f05350"/>
<rect x="555.28" y="421.8" width="3.2" height="7.2" fill="#f05350"/>
<rect x="559.23" y="421.8" width="3.2" height="7.5" fill="#f05350"/>
<rect x="563.18" y="421.8" width="3.2" height="9.0" fill="#f05350"/>
<rect x="567.14" y="421.8" width="3.2" height="9.5" fill="#f05350"/>
<rect x="571.09" y="421.8" width="3.2" height="11.5" fill="#f05350"/>
<rect x="575.04" y="421.8" width="3.2" height="10.7" fill="#ffcdd2"/>
<rect x="579.00" y="421.8" width="3.2" height="6.8" fill="#ffcdd2"/>
<rect x="582.95" y="421.8" width="3.2" height="3.6" fill="#ffcdd2"/>
<rect x="586.90" y="421.8" width="3.2" height="1.5" fill="#ffcdd2"/>
<rect x="590.86" y="420.9" width="3.2" height="0.9" fill="#26a69a"/>
<rect x="594.81" y="419.5" width="3.2" height="2.3" fill="#26a69a"/>
<rect x="598.76" y="421.8" width="3.2" height="2.0" fill="#f05350"/>
<rect x="602.72" y="421.8" width="3.2" height="5.3" fill="#f05350"/>
<rect x="606.67" y="421.8" width="3.2" height="10.9" fill="#f05350"/>
<rect x="610.63" y="421.8" width="3.2" height="14.5" fill="#f05350"/>
<rect x="614.58" y="421.8" width="3.2" height="16.0" fill="#f05350"/>
<rect x="618.53" y="421.8" width="3.2" height="13.5" fill="#ffcdd2"/>
<rect x="622.49" y="421.8" width="3.2" height="12.5" fill="#ffcdd2"/>
<rect x="626.44" y="421.8" width="3.2" height="10.6" fill="#ffcdd2"/>
<rect x="630.39" y="421.8" width="3.2" height="8.4" fill="#ffcdd2"/>
<rect x="634.35" y="421.8" width="3.2" height="4.2" fill="#ffcdd2"/>
<rect x="638.30" y="421.8" width="3.2" height="1.1" fill="#ffcdd2"/>
<rect x="642.25" y="419.4" width="3.2" height="2.4" fill="#26a69a"/>
<rect x="646.21" y="418.6" width="3.2" height="3.2" fill="#26a69a"/>
<rect x="650.16" y="416.7" width="3.2" height="5.1" fill="#26a69a"/>
<rect x="654.11" y="418.1" width="3.2" height="3.7" fill="#b2dfdb"/>
<rect x="658.07" y="416.9" width="3.2" height="4.9" fill="#26a69a"/>
<rect x="662.02" y="415.5" width="3.2" height="6.3" fill="#26a69a"/>
<rect x="665.97" y="413.3" width="3.2" height="8.5" fill="#26a69a"/>
<rect x="669.93" y="411.7" width="3.2" height="10.1" fill="#26a69a"/>
<rect x="673.88" y="411.7" width="3.2" height="10.1" fill="#26a69a"/>
<rect x="677.84" y="412.4" width="3.2" height="9.4" fill="#b2dfdb"/>
<rect x="681.79" y="411.5" width="3.2" height="10.3" fill="#26a69a"/>
<rect x="685.74" y="412.1" width="3.2" height="9.7" fill="#b2dfdb"/>
<rect x="689.70" y="411.7" width="3.2" height="10.1" fill="#26a69a"/>
<rect x="693.65" y="410.7" width="3.2" height="11.1" fill="#26a69a"/>
<rect x="697.60" y="407.7" width="3.2" height="14.1" fill="#26a69a"/>
<rect x="701.56" y="407.4" width="3.2" height="14.4" fill="#26a69a"/>
<rect x="705.51" y="407.9" width="3.2" height="13.9" fill="#b2dfdb"/>
<rect x="709.46" y="409.5" width="3.2" height="12.3" fill="#b2dfdb"/>
<rect x="713.42" y="411.4" width="3.2" height="10.4" fill="#b2dfdb"/>
<rect x="717.37" y="414.6" width="3.2" height="7.2" fill="#b2dfdb"/>
<rect x="721.32" y="417.4" width="3.2" height="4.4" fill="#b2dfdb"/>
<rect x="725.28" y="418.2" width="3.2" height="3.6" fill="#b2dfdb"/>
<rect x="729.23" y="418.5" width="3.2" height="3.3" fill="#b2dfdb"/>
<rect x="733.18" y="419.0" width="3.2" height="2.8" fill="#b2dfdb"/>
<rect x="737.14" y="421.8" width="3.2" height="0.6" fill="#f05350"/>
<rect x="741.09" y="421.8" width="3.2" height="0.9" fill="#f05350"/>
<rect x="745.04" y="421.8" width="3.2" height="0.8" fill="#ffcdd2"/>
<rect x="749.00" y="420.1" width="3.2" height="1.7" fill="#26a69a"/>
<rect x="752.95" y="420.0" width="3.2" height="1.8" fill="#26a69a"/>
<rect x="756.90" y="420.5" width="3.2" height="1.3" fill="#b2dfdb"/>
<rect x="760.86" y="420.3" width="3.2" height="1.5" fill="#26a69a"/>
<rect x="764.81" y="421.8" width="3.2" height="2.6" fill="#f05350"/>
<rect x="768.77" y="421.8" width="3.2" height="6.7" fill="#f05350"/>
<rect x="772.72" y="421.8" width="3.2" height="10.2" fill="#f05350"/>
<rect x="776.67" y="421.8" width="3.2" height="8.7" fill="#ffcdd2"/>
<rect x="780.63" y="421.8" width="3.2" height="10.8" fill="#f05350"/>
<rect x="784.58" y="421.8" width="3.2" height="13.1" fill="#f05350"/>
<rect x="788.53" y="421.8" width="3.2" height="12.5" fill="#ffcdd2"/>
<rect x="792.49" y="421.8" width="3.2" height="11.3" fill="#ffcdd2"/>
<rect x="796.44" y="421.8" width="3.2" height="9.5" fill="#ffcdd2"/>
<rect x="800.39" y="421.8" width="3.2" height="9.9" fill="#f05350"/>
<rect x="804.35" y="421.8" width="3.2" height="10.1" fill="#f05350"/>
<rect x="808.30" y="421.8" width="3.2" height="7.7" fill="#ffcdd2"/>
<rect x="812.25" y="421.8" width="3.2" height="6.6" fill="#ffcdd2"/>
<rect x="816.21" y="421.8" width="3.2" height="7.0" fill="#f05350"/>
<rect x="820.16" y="421.8" width="3.2" height="5.6" fill="#ffcdd2"/>
<rect x="824.11" y="421.8" width="3.2" height="4.0" fill="#ffcdd2"/>
<rect x="828.07" y="421.8" width="3.2" height="1.4" fill="#ffcdd2"/>
<rect x="832.02" y="421.0" width="3.2" height="0.8" fill="#26a69a"/>
<rect x="835.98" y="417.7" width="3.2" height="4.1" fill="#26a69a"/>
<rect x="839.93" y="414.6" width="3.2" height="7.2" fill="#26a69a"/>
<rect x="843.88" y="411.7" width="3.2" height="10.1" fill="#26a69a"/>
<rect x="847.84" y="410.9" width="3.2" height="10.9" fill="#26a69a"/>
<rect x="851.79" y="411.5" width="3.2" height="10.3" fill="#b2dfdb"/>
<rect x="855.74" y="411.6" width="3.2" height="10.2" fill="#b2dfdb"/>
<rect x="859.70" y="410.5" width="3.2" height="11.3" fill="#26a69a"/>
<rect x="863.65" y="408.6" width="3.2" height="13.2" fill="#26a69a"/>
<rect x="867.60" y="408.8" width="3.2" height="13.0" fill="#b2dfdb"/>
<rect x="871.56" y="409.3" width="3.2" height="12.5" fill="#b2dfdb"/>
<rect x="875.51" y="408.4" width="3.2" height="13.4" fill="#26a69a"/>
<rect x="879.46" y="410.8" width="3.2" height="11.0" fill="#b2dfdb"/>
<rect x="883.42" y="413.7" width="3.2" height="8.1" fill="#b2dfdb"/>
<rect x="887.37" y="415.6" width="3.2" height="6.2" fill="#b2dfdb"/>
<rect x="891.32" y="419.0" width="3.2" height="2.8" fill="#b2dfdb"/>
<rect x="895.28" y="421.8" width="3.2" height="0.6" fill="#f05350"/>
<rect x="899.23" y="421.8" width="3.2" height="2.2" fill="#f05350"/>
<rect x="903.18" y="421.8" width="3.2" height="2.9" fill="#f05350"/>
<rect x="907.14" y="421.8" width="3.2" height="5.3" fill="#f05350"/>
<rect x="911.09" y="421.8" width="3.2" height="6.6" fill="#f05350"/>
<rect x="915.04" y="421.8" width="3.2" height="6.7" fill="#f05350"/>
<rect x="919.00" y="421.8" width="3.2" height="8.1" fill="#f05350"/>
<rect x="922.95" y="421.8" width="3.2" height="3.4" fill="#ffcdd2"/>
<rect x="926.91" y="420.2" width="3.2" height="1.6" fill="#26a69a"/>
<rect x="930.86" y="418.3" width="3.2" height="3.5" fill="#26a69a"/>
<rect x="934.81" y="417.7" width="3.2" height="4.1" fill="#26a69a"/>
<rect x="938.77" y="417.9" width="3.2" height="3.9" fill="#b2dfdb"/>
<rect x="942.72" y="418.4" width="3.2" height="3.4" fill="#b2dfdb"/>
<rect x="946.67" y="418.4" width="3.2" height="3.4" fill="#26a69a"/>
<rect x="950.63" y="415.8" width="3.2" height="6.0" fill="#26a69a"/>
<rect x="954.58" y="413.9" width="3.2" height="7.9" fill="#26a69a"/>
<rect x="958.53" y="415.0" width="3.2" height="6.8" fill="#b2dfdb"/>
<rect x="962.49" y="413.9" width="3.2" height="7.9" fill="#26a69a"/>
<rect x="966.44" y="411.2" width="3.2" height="10.6" fill="#26a69a"/>
<rect x="970.39" y="408.2" width="3.2" height="13.6" fill="#26a69a"/>
<rect x="974.35" y="406.5" width="3.2" height="15.3" fill="#26a69a"/>
<rect x="978.30" y="408.2" width="3.2" height="13.6" fill="#b2dfdb"/>
<rect x="982.25" y="406.8" width="3.2" height="15.0" fill="#26a69a"/>
<rect x="986.21" y="408.3" width="3.2" height="13.5" fill="#b2dfdb"/>
<rect x="990.16" y="409.4" width="3.2" height="12.4" fill="#b2dfdb"/>
<rect x="994.12" y="414.0" width="3.2" height="7.8" fill="#b2dfdb"/>
<rect x="998.07" y="419.6" width="3.2" height="2.2" fill="#b2dfdb"/>
<rect x="1002.02" y="421.8" width="3.2" height="3.4" fill="#f05350"/>
<rect x="1005.98" y="421.8" width="3.2" height="6.0" fill="#f05350"/>
<rect x="1009.93" y="421.8" width="3.2" height="8.9" fill="#f05350"/>
<rect x="1013.88" y="421.8" width="3.2" height="9.0" fill="#f05350"/>
<rect x="1017.84" y="421.8" width="3.2" height="7.7" fill="#ffcdd2"/>
<rect x="1021.79" y="421.8" width="3.2" height="8.0" fill="#f05350"/>
<rect x="1025.74" y="421.8" width="3.2" height="10.3" fill="#f05350"/>
<rect x="1029.70" y="421.8" width="3.2" height="12.4" fill="#f05350"/>
<rect x="1033.65" y="421.8" width="3.2" height="13.6" fill="#f05350"/>
<rect x="1037.60" y="421.8" width="3.2" height="11.1" fill="#ffcdd2"/>
<rect x="1041.56" y="421.8" width="3.2" height="9.2" fill="#ffcdd2"/>
<rect x="1045.51" y="421.8" width="3.2" height="5.1" fill="#ffcdd2"/>
<rect x="1049.46" y="421.8" width="3.2" height="3.3" fill="#ffcdd2"/>
<rect x="1053.42" y="421.8" width="3.2" height="2.1" fill="#ffcdd2"/>
<rect x="1057.37" y="421.2" width="3.2" height="0.6" fill="#26a69a"/>
<rect x="1061.32" y="419.8" width="3.2" height="2.0" fill="#26a69a"/>
<rect x="1065.28" y="421.5" width="3.2" height="0.6" fill="#b2dfdb"/>
<rect x="1069.23" y="419.6" width="3.2" height="2.2" fill="#26a69a"/>
<rect x="1073.18" y="420.9" width="3.2" height="0.9" fill="#b2dfdb"/>
<rect x="1077.14" y="420.0" width="3.2" height="1.8" fill="#26a69a"/>
<rect x="1081.09" y="420.4" width="3.2" height="1.4" fill="#b2dfdb"/>
<rect x="1085.05" y="421.8" width="3.2" height="0.6" fill="#f05350"/>
<rect x="1089.00" y="421.8" width="3.2" height="4.6" fill="#f05350"/>
<rect x="1092.95" y="421.8" width="3.2" height="8.3" fill="#f05350"/>
<rect x="1096.91" y="421.8" width="3.2" height="11.0" fill="#f05350"/>
<rect x="1100.86" y="421.8" width="3.2" height="15.1" fill="#f05350"/>
<rect x="1104.81" y="421.8" width="3.2" height="16.7" fill="#f05350"/>
<rect x="1108.77" y="421.8" width="3.2" height="16.6" fill="#ffcdd2"/>
<rect x="1112.72" y="421.8" width="3.2" height="17.6" fill="#f05350"/>
<rect x="1116.67" y="421.8" width="3.2" height="17.6" fill="#ffcdd2"/>
<rect x="1120.63" y="421.8" width="3.2" height="16.6" fill="#ffcdd2"/>
<rect x="1124.58" y="421.8" width="3.2" height="16.2" fill="#ffcdd2"/>
<rect x="1128.53" y="421.8" width="3.2" height="15.8" fill="#ffcdd2"/>
<rect x="1132.49" y="421.8" width="3.2" height="15.9" fill="#f05350"/>
<rect x="1136.44" y="421.8" width="3.2" height="16.4" fill="#f05350"/>
<rect x="1140.39" y="421.8" width="3.2" height="14.1" fill="#ffcdd2"/>
<rect x="1144.35" y="421.8" width="3.2" height="13.8" fill="#ffcdd2"/>
<rect x="1148.30" y="421.8" width="3.2" height="13.6" fill="#ffcdd2"/>
<rect x="1152.26" y="421.8" width="3.2" height="13.1" fill="#ffcdd2"/>
<rect x="1156.21" y="421.8" width="3.2" height="9.6" fill="#ffcdd2"/>
<rect x="1160.16" y="421.8" width="3.2" height="8.1" fill="#ffcdd2"/>
<rect x="1164.12" y="421.8" width="3.2" height="5.6" fill="#ffcdd2"/>
<rect x="1168.07" y="421.8" width="3.2" height="3.0" fill="#ffcdd2"/>
<rect x="1172.02" y="420.9" width="3.2" height="0.9" fill="#26a69a"/>
<rect x="1175.98" y="416.9" width="3.2" height="4.9" fill="#26a69a"/>
<rect x="1179.93" y="416.6" width="3.2" height="5.2" fill="#26a69a"/>
<rect x="1183.88" y="414.0" width="3.2" height="7.8" fill="#26a69a"/>
<rect x="1187.84" y="410.1" width="3.2" height="11.7" fill="#26a69a"/>
<rect x="1191.79" y="417.3" width="3.2" height="4.5" fill="#b2dfdb"/>
<rect x="1195.74" y="418.4" width="3.2" height="3.4" fill="#b2dfdb"/>
<rect x="1199.70" y="421.8" width="3.2" height="0.9" fill="#f05350"/>
<rect x="1203.65" y="421.8" width="3.2" height="6.3" fill="#f05350"/>
<rect x="1207.60" y="421.8" width="3.2" height="10.2" fill="#f05350"/>
<rect x="1211.56" y="421.8" width="3.2" height="14.5" fill="#f05350"/>
<rect x="1215.51" y="421.8" width="3.2" height="17.7" fill="#f05350"/>
<rect x="1219.46" y="421.8" width="3.2" height="17.8" fill="#f05350"/>
<rect x="1223.42" y="421.8" width="3.2" height="13.8" fill="#ffcdd2"/>
<rect x="1227.37" y="421.8" width="3.2" height="10.1" fill="#ffcdd2"/>
<rect x="1231.33" y="421.8" width="3.2" height="9.2" fill="#ffcdd2"/>
<rect x="1235.28" y="421.8" width="3.2" height="10.7" fill="#f05350"/>
<rect x="1239.23" y="421.8" width="3.2" height="13.2" fill="#f05350"/>
<rect x="1243.19" y="421.8" width="3.2" height="9.9" fill="#ffcdd2"/>
<rect x="1247.14" y="421.8" width="3.2" height="6.9" fill="#ffcdd2"/>
<rect x="1251.09" y="421.8" width="3.2" height="0.6" fill="#ffcdd2"/>
<rect x="1255.05" y="418.4" width="3.2" height="3.4" fill="#26a69a"/>
<rect x="1259.00" y="414.5" width="3.2" height="7.3" fill="#26a69a"/>
<rect x="1262.95" y="415.2" width="3.2" height="6.6" fill="#b2dfdb"/>
<rect x="1266.91" y="413.9" width="3.2" height="7.9" fill="#26a69a"/>
</g>
<path d="M3.7,458.1 L7.3,459.0 L11.3,460.6 L15.2,462.1 L19.2,462.9 L23.2,463.3 L27.1,463.6 L31.1,463.6 L35.0,463.6 L39.0,464.1 L42.9,465.0 L46.9,466.7 L50.8,468.1 L54.8,469.0 L58.7,470.5 L62.7,472.4 L66.6,473.8 L70.6,474.3 L74.5,473.6 L78.5,472.4 L82.5,470.2 L86.4,467.4 L90.4,465.2 L94.3,463.6 L98.3,461.9 L102.2,459.8 L106.2,458.0 L110.1,455.9 L114.1,453.5 L118.0,450.0 L122.0,447.0 L125.9,444.5 L129.9,442.6 L133.9,441.1 L137.8,439.3 L141.8,437.7 L145.7,436.4 L149.7,434.8 L153.6,431.8 L157.6,428.2 L161.5,424.6 L165.5,421.0 L169.4,418.2 L173.4,415.7 L177.3,413.5 L181.3,409.6 L185.2,405.1 L189.2,400.6 L193.2,395.6 L197.1,390.4 L201.1,385.6 L205.0,381.8 L209.0,378.6 L212.9,375.8 L216.9,373.3 L220.8,370.7 L224.8,368.6 L228.7,368.0 L232.7,368.5 L236.6,370.3 L240.6,373.4 L244.6,377.6 L248.5,382.0 L252.5,386.9 L256.4,391.7 L260.4,396.1 L264.3,399.1 L268.3,399.7 L272.2,400.1 L276.2,399.9 L280.1,398.9 L284.1,397.8 L288.0,396.1 L292.0,394.1 L295.9,392.1 L299.9,389.9 L303.9,387.1 L307.8,384.6 L311.8,382.8 L315.7,381.6 L319.7,382.1 L323.6,383.8 L327.6,386.1 L331.5,388.7 L335.5,391.4 L339.4,394.3 L343.4,396.7 L347.3,398.8 L351.3,400.9 L355.2,402.9 L359.2,405.6 L363.2,408.6 L367.1,411.6 L371.1,414.4 L375.0,417.1 L379.0,419.8 L382.9,422.1 L386.9,424.5 L390.8,426.6 L394.8,428.8 L398.7,430.7 L402.7,432.6 L406.6,433.8 L410.6,435.4 L414.6,437.6 L418.5,440.0 L422.5,442.0 L426.4,443.7 L430.4,444.9 L434.3,445.8 L438.3,447.2 L442.2,448.5 L446.2,449.1 L450.1,449.1 L454.1,448.8 L458.0,447.8 L462.0,446.2 L465.9,444.3 L469.9,442.2 L473.9,439.8 L477.8,437.3 L481.8,434.9 L485.7,433.1 L489.7,431.3 L493.6,429.4 L497.6,427.5 L501.5,425.2 L505.5,422.2 L509.4,419.1 L513.4,416.2 L517.3,413.6 L521.3,411.0 L525.2,409.4 L529.2,408.5 L533.2,408.2 L537.1,408.4 L541.1,408.4 L545.0,408.9 L549.0,410.4 L552.9,412.0 L556.9,413.9 L560.8,415.7 L564.8,418.0 L568.7,420.3 L572.7,423.2 L576.6,425.9 L580.6,427.6 L584.6,428.5 L588.5,428.8 L592.5,428.6 L596.4,428.0 L600.4,428.5 L604.3,429.9 L608.3,432.6 L612.2,436.2 L616.2,440.2 L620.1,443.6 L624.1,446.7 L628.0,449.4 L632.0,451.4 L635.9,452.5 L639.9,452.8 L643.9,452.2 L647.8,451.4 L651.8,450.1 L655.7,449.2 L659.7,448.0 L663.6,446.4 L667.6,444.2 L671.5,441.7 L675.5,439.2 L679.4,436.8 L683.4,434.2 L687.3,431.8 L691.3,429.3 L695.2,426.5 L699.2,423.0 L703.2,419.4 L707.1,415.9 L711.1,412.9 L715.0,410.2 L719.0,408.4 L722.9,407.4 L726.9,406.5 L730.8,405.6 L734.8,404.9 L738.7,405.0 L742.7,405.2 L746.6,405.4 L750.6,405.0 L754.6,404.6 L758.5,404.3 L762.5,403.9 L766.4,404.5 L770.4,406.2 L774.3,408.7 L778.3,410.9 L782.2,413.6 L786.2,416.9 L790.1,420.0 L794.1,422.9 L798.0,425.2 L802.0,427.7 L805.9,430.2 L809.9,432.2 L813.9,433.8 L817.8,435.6 L821.8,437.0 L825.7,438.0 L829.7,438.3 L833.6,438.1 L837.6,437.1 L841.5,435.3 L845.5,432.8 L849.4,430.0 L853.4,427.5 L857.3,424.9 L861.3,422.1 L865.2,418.8 L869.2,415.6 L873.2,412.4 L877.1,409.1 L881.1,406.3 L885.0,404.3 L889.0,402.7 L892.9,402.0 L896.9,402.1 L900.8,402.7 L904.8,403.4 L908.7,404.7 L912.7,406.4 L916.6,408.0 L920.6,410.1 L924.6,410.9 L928.5,410.5 L932.5,409.6 L936.4,408.6 L940.4,407.6 L944.3,406.8 L948.3,405.9 L952.2,404.4 L956.2,402.5 L960.1,400.8 L964.1,398.8 L968.0,396.1 L972.0,392.8 L975.9,388.9 L979.9,385.5 L983.9,381.8 L987.8,378.4 L991.8,375.3 L995.7,373.3 L999.7,372.8 L1003.6,373.6 L1007.6,375.1 L1011.5,377.4 L1015.5,379.6 L1019.4,381.5 L1023.4,383.5 L1027.3,386.1 L1031.3,389.2 L1035.2,392.6 L1039.2,395.4 L1043.2,397.7 L1047.1,398.9 L1051.1,399.8 L1055.0,400.3 L1059.0,400.1 L1062.9,399.6 L1066.9,399.6 L1070.8,399.0 L1074.8,398.8 L1078.7,398.3 L1082.7,398.0 L1086.6,398.1 L1090.6,399.2 L1094.6,401.3 L1098.5,404.1 L1102.5,407.8 L1106.4,412.0 L1110.4,416.1 L1114.3,420.5 L1118.3,424.9 L1122.2,429.1 L1126.2,433.1 L1130.1,437.1 L1134.1,441.1 L1138.0,445.1 L1142.0,448.7 L1145.9,452.1 L1149.9,455.5 L1153.9,458.8 L1157.8,461.2 L1161.8,463.2 L1165.7,464.6 L1169.7,465.4 L1173.6,465.2 L1177.6,463.9 L1181.5,462.6 L1185.5,460.7 L1189.4,457.8 L1193.4,456.6 L1197.3,455.8 L1201.3,456.0 L1205.3,457.6 L1209.2,460.1 L1213.2,463.8 L1217.1,468.2 L1221.1,472.6 L1225.0,476.1 L1229.0,478.6 L1232.9,480.9 L1236.9,483.6 L1240.8,486.9 L1244.8,489.4 L1248.7,491.1 L1252.7,491.2 L1256.6,490.4 L1260.6,488.6 L1264.6,486.9 L1268.5,484.9" fill="none" stroke="#f0983e" stroke-width="1.05" stroke-linejoin="round"/>
<path d="M3.7,462.5 L7.3,464.2 L11.3,467.0 L15.2,467.9 L19.2,466.2 L23.2,465.0 L27.1,464.5 L31.1,463.9 L35.0,463.7 L39.0,466.0 L42.9,468.3 L46.9,473.6 L50.8,473.7 L54.8,472.6 L58.7,476.6 L62.7,479.8 L66.6,479.6 L70.6,476.3 L74.5,470.9 L78.5,467.3 L82.5,461.6 L86.4,456.1 L90.4,456.3 L94.3,457.4 L98.3,454.8 L102.2,451.5 L106.2,450.8 L110.1,447.4 L114.1,443.8 L118.0,436.2 L122.0,434.8 L125.9,434.8 L129.9,434.9 L133.9,435.1 L137.8,431.9 L141.8,431.5 L145.7,431.4 L149.7,428.2 L153.6,419.7 L157.6,413.7 L161.5,410.1 L165.5,406.8 L169.4,406.7 L173.4,405.9 L177.3,404.8 L181.3,393.7 L185.2,387.3 L189.2,382.4 L193.2,375.8 L197.1,369.4 L201.1,366.6 L205.0,366.3 L209.0,366.1 L212.9,364.7 L216.9,363.1 L220.8,360.3 L224.8,360.2 L228.7,365.4 L232.7,370.6 L236.6,377.5 L240.6,385.7 L244.6,394.3 L248.5,399.8 L252.5,406.3 L256.4,411.1 L260.4,413.5 L264.3,411.0 L268.3,402.3 L272.2,401.4 L276.2,399.4 L280.1,394.7 L284.1,393.7 L288.0,389.3 L292.0,385.9 L295.9,384.2 L299.9,381.3 L303.9,375.8 L307.8,374.6 L311.8,375.5 L315.7,376.9 L319.7,383.8 L323.6,390.8 L327.6,395.3 L331.5,399.3 L335.5,402.2 L339.4,405.8 L343.4,406.5 L347.3,407.2 L351.3,409.2 L355.2,410.8 L359.2,416.3 L363.2,420.4 L367.1,424.0 L371.1,425.6 L375.0,427.5 L379.0,430.8 L382.9,431.4 L386.9,433.8 L390.8,435.4 L394.8,437.6 L398.7,438.2 L402.7,440.2 L406.6,438.5 L410.6,441.8 L414.6,446.7 L418.5,449.4 L422.5,450.3 L426.4,450.3 L430.4,449.7 L434.3,449.5 L438.3,452.7 L442.2,453.7 L446.2,451.6 L450.1,449.3 L454.1,447.3 L458.0,443.7 L462.0,439.9 L465.9,436.5 L469.9,434.1 L473.9,430.1 L477.8,427.3 L481.8,425.4 L485.7,425.7 L489.7,424.3 L493.6,421.8 L497.6,419.8 L501.5,415.9 L505.5,410.3 L509.4,406.8 L513.4,404.6 L517.3,403.0 L521.3,400.8 L525.2,403.0 L529.2,404.7 L533.2,407.0 L537.1,409.5 L541.1,408.3 L545.0,411.0 L549.0,416.2 L552.9,418.7 L556.9,421.1 L560.8,423.2 L564.8,427.0 L568.7,429.8 L572.7,434.7 L576.6,436.6 L580.6,434.3 L584.6,432.0 L588.5,430.4 L592.5,427.7 L596.4,425.7 L600.4,430.5 L604.3,435.1 L608.3,443.5 L612.2,450.7 L616.2,456.2 L620.1,457.1 L624.1,459.2 L628.0,459.9 L632.0,459.8 L635.9,456.7 L639.9,453.9 L643.9,449.7 L647.8,448.2 L651.8,445.0 L655.7,445.5 L659.7,443.0 L663.6,440.0 L667.6,435.7 L671.5,431.6 L675.5,429.1 L679.4,427.4 L683.4,423.9 L687.3,422.1 L691.3,419.2 L695.2,415.5 L699.2,408.9 L703.2,405.0 L707.1,402.0 L711.1,400.5 L715.0,399.8 L719.0,401.2 L722.9,403.0 L726.9,402.9 L730.8,402.3 L734.8,402.2 L738.7,405.3 L742.7,406.2 L746.6,406.2 L750.6,403.4 L754.6,402.7 L758.5,403.0 L762.5,402.4 L766.4,407.1 L770.4,412.9 L774.3,418.9 L778.3,419.6 L782.2,424.4 L786.2,430.0 L790.1,432.6 L794.1,434.1 L798.0,434.7 L802.0,437.6 L805.9,440.4 L809.9,439.8 L813.9,440.4 L817.8,442.6 L821.8,442.6 L825.7,442.0 L829.7,439.7 L833.6,437.3 L837.6,433.0 L841.5,428.1 L845.5,422.7 L849.4,419.1 L853.4,417.2 L857.3,414.7 L861.3,410.8 L865.2,405.6 L869.2,402.6 L873.2,400.0 L877.1,395.7 L881.1,395.3 L885.0,396.2 L889.0,396.5 L892.9,399.3 L896.9,402.4 L900.8,404.9 L904.8,406.3 L908.7,410.0 L912.7,412.9 L916.6,414.8 L920.6,418.1 L924.6,414.3 L928.5,408.9 L932.5,406.1 L936.4,404.5 L940.4,403.7 L944.3,403.4 L948.3,402.5 L952.2,398.5 L956.2,394.6 L960.1,394.0 L964.1,390.9 L968.0,385.5 L972.0,379.2 L975.9,373.6 L979.9,371.9 L983.9,366.8 L987.8,364.9 L991.8,362.8 L995.7,365.5 L999.7,370.6 L1003.6,377.0 L1007.6,381.1 L1011.5,386.3 L1015.5,388.6 L1019.4,389.2 L1023.4,391.6 L1027.3,396.4 L1031.3,401.5 L1035.2,406.2 L1039.2,406.4 L1043.2,406.9 L1047.1,404.0 L1051.1,403.1 L1055.0,402.4 L1059.0,399.5 L1062.9,397.6 L1066.9,399.2 L1070.8,396.8 L1074.8,397.8 L1078.7,396.5 L1082.7,396.6 L1086.6,398.5 L1090.6,403.9 L1094.6,409.6 L1098.5,415.1 L1102.5,422.9 L1106.4,428.6 L1110.4,432.7 L1114.3,438.2 L1118.3,442.5 L1122.2,445.7 L1126.2,449.3 L1130.1,452.9 L1134.1,457.0 L1138.0,461.5 L1142.0,462.7 L1145.9,465.9 L1149.9,469.1 L1153.9,471.9 L1157.8,470.8 L1161.8,471.3 L1165.7,470.2 L1169.7,468.4 L1173.6,464.3 L1177.6,459.0 L1181.5,457.5 L1185.5,452.9 L1189.4,446.1 L1193.4,452.1 L1197.3,452.4 L1201.3,456.9 L1205.3,463.8 L1209.2,470.4 L1213.2,478.3 L1217.1,485.8 L1221.1,490.5 L1225.0,489.8 L1229.0,488.8 L1232.9,490.1 L1236.9,494.3 L1240.8,500.1 L1244.8,499.3 L1248.7,498.0 L1252.7,491.8 L1256.6,487.0 L1260.6,481.2 L1264.6,480.3 L1268.5,477.0" fill="none" stroke="#4d6cc4" stroke-width="1" stroke-linejoin="round"/>
</g>
<g id="rsi">
<line x1="3.5" x2="1290.5" y1="546.5" y2="546.5" stroke="#6c6f77" stroke-width="1" stroke-dasharray="4.1 4.3"/>
<line x1="3.5" x2="1290.5" y1="601.5" y2="601.5" stroke="#d2d4d9" stroke-width="1" stroke-dasharray="4.1 4.3"/>
<line x1="3.5" x2="1290.5" y1="656.5" y2="656.5" stroke="#6c6f77" stroke-width="1" stroke-dasharray="4.1 4.3"/>
<path d="M3.6,626.5 L7.3,630.9 L11.3,650.2 L15.2,644.6 L19.2,631.3 L23.2,634.1 L27.1,638.5 L31.1,639.3 L35.0,642.6 L39.0,654.8 L42.9,658.6 L46.9,671.2 L50.8,644.2 L54.8,640.9 L58.7,658.9 L62.7,661.1 L66.6,645.8 L70.6,630.0 L74.5,617.6 L78.5,622.3 L82.5,609.5 L86.4,605.6 L90.4,628.2 L94.3,632.9 L98.3,615.8 L102.2,610.9 L106.2,620.8 L110.1,607.4 L114.1,604.0 L118.0,582.8 L122.0,605.1 L125.9,610.6 L129.9,611.7 L133.9,612.9 L137.8,596.2 L141.8,607.0 L145.7,608.6 L149.7,593.6 L153.6,569.6 L157.6,572.9 L161.5,579.0 L165.5,576.4 L169.4,589.7 L173.4,585.5 L177.3,582.1 L181.3,546.7 L185.2,557.7 L189.2,556.8 L193.2,547.7 L197.1,543.0 L201.1,553.4 L205.0,561.2 L209.0,558.9 L212.9,552.9 L216.9,549.4 L220.8,542.7 L224.8,551.9 L228.7,580.8 L232.7,582.9 L236.6,595.6 L240.6,606.5 L244.6,614.9 L248.5,606.5 L252.5,615.4 L256.4,612.7 L260.4,604.6 L264.3,582.3 L268.3,558.3 L272.2,586.0 L276.2,580.5 L280.1,570.1 L284.1,580.6 L288.0,568.4 L292.0,567.7 L295.9,570.0 L299.9,563.6 L303.9,552.9 L307.8,566.4 L311.8,573.9 L315.7,574.1 L319.7,600.4 L323.6,604.9 L327.6,599.1 L331.5,599.9 L335.5,597.7 L339.4,603.2 L343.4,591.2 L347.3,591.7 L351.3,598.9 L355.2,598.4 L359.2,621.0 L363.2,619.3 L367.1,620.9 L371.1,612.8 L375.0,617.1 L379.0,627.3 L382.9,613.2 L386.9,624.8 L390.8,623.4 L394.8,629.5 L398.7,621.9 L402.7,631.6 L406.6,608.3 L410.6,633.4 L414.6,643.4 L418.5,637.8 L422.5,630.8 L426.4,628.3 L430.4,626.3 L434.3,629.2 L438.3,647.2 L442.2,637.5 L446.2,618.3 L450.1,616.8 L454.1,616.8 L458.0,604.1 L462.0,599.0 L465.9,597.1 L469.9,600.3 L473.9,586.2 L477.8,589.4 L481.8,592.5 L485.7,608.7 L489.7,594.5 L493.6,585.4 L497.6,584.1 L501.5,568.7 L505.5,553.6 L509.4,561.7 L513.4,566.1 L517.3,565.0 L521.3,558.6 L525.2,592.7 L529.2,591.4 L533.2,598.5 L537.1,601.9 L541.1,578.0 L545.0,604.9 L549.0,622.9 L552.9,610.8 L556.9,613.6 L560.8,614.8 L564.8,628.1 L568.7,627.0 L572.7,641.8 L576.6,627.3 L580.6,601.3 L584.6,598.8 L588.5,600.6 L592.5,592.3 L596.4,593.3 L600.4,632.3 L604.3,636.4 L608.3,655.5 L612.2,658.5 L616.2,659.1 L620.1,635.4 L624.1,642.9 L628.0,639.0 L632.0,637.2 L635.9,618.2 L639.9,618.2 L643.9,606.6 L647.8,618.9 L651.8,607.2 L655.7,624.9 L659.7,608.1 L663.6,603.4 L667.6,592.8 L671.5,589.9 L675.5,595.2 L679.4,597.8 L683.4,584.8 L687.3,591.5 L691.3,582.7 L695.2,573.8 L699.2,556.4 L703.2,564.8 L707.1,564.2 L711.1,569.8 L715.0,571.7 L719.0,586.8 L722.9,590.0 L726.9,578.6 L730.8,574.2 L734.8,574.5 L738.7,601.7 L742.7,588.6 L746.6,583.3 L750.6,565.0 L754.6,577.2 L758.5,581.5 L762.5,575.1 L766.4,611.5 L770.4,621.5 L774.3,628.9 L778.3,602.4 L782.2,623.0 L786.2,631.1 L790.1,620.0 L794.1,618.4 L798.0,615.1 L802.0,627.8 L805.9,630.8 L809.9,614.2 L813.9,620.2 L817.8,629.6 L821.8,619.8 L825.7,617.1 L829.7,606.2 L833.6,604.0 L837.6,589.3 L841.5,581.9 L845.5,573.5 L849.4,578.6 L853.4,585.7 L857.3,579.3 L861.3,567.7 L865.2,557.0 L869.2,563.8 L873.2,561.9 L877.1,550.1 L881.1,572.6 L885.0,579.7 L889.0,576.0 L892.9,593.1 L896.9,598.6 L900.8,596.4 L904.8,592.1 L908.7,609.7 L912.7,608.8 L916.6,604.5 L920.6,618.0 L924.6,574.8 L928.5,563.3 L932.5,573.0 L936.4,575.9 L940.4,577.5 L944.3,579.0 L948.3,573.5 L952.2,555.4 L956.2,550.8 L960.1,570.1 L964.1,556.2 L968.0,543.7 L972.0,535.9 L975.9,532.5 L979.9,550.6 L983.9,536.8 L987.8,548.2 L991.8,544.1 L995.7,569.0 L999.7,582.8 L1003.6,593.0 L1007.6,586.1 L1011.5,594.7 L1015.5,584.3 L1019.4,577.5 L1023.4,586.8 L1027.3,601.3 L1031.3,606.3 L1035.2,608.4 L1039.2,589.5 L1043.2,589.8 L1047.1,573.8 L1051.1,580.9 L1055.0,579.7 L1059.0,568.2 L1062.9,569.0 L1066.9,588.1 L1070.8,569.9 L1074.8,586.2 L1078.7,575.5 L1082.7,580.8 L1086.6,589.9 L1090.6,609.1 L1094.6,615.3 L1098.5,619.5 L1102.5,633.9 L1106.4,631.7 L1110.4,629.6 L1114.3,639.7 L1118.3,640.7 L1122.2,640.9 L1126.2,647.2 L1130.1,651.6 L1134.1,658.2 L1138.0,664.7 L1142.0,647.6 L1145.9,658.2 L1149.9,662.2 L1153.9,665.3 L1157.8,641.5 L1161.8,649.6 L1165.7,641.5 L1169.7,638.4 L1173.6,621.3 L1177.6,610.2 L1181.5,626.5 L1185.5,606.9 L1189.4,591.0 L1193.4,639.3 L1197.3,619.7 L1201.3,633.8 L1205.3,643.7 L1209.2,647.5 L1213.2,655.2 L1217.1,659.4 L1221.1,656.6 L1225.0,638.5 L1229.0,639.1 L1232.9,647.3 L1236.9,657.2 L1240.8,664.3 L1244.8,641.4 L1248.7,642.3 L1252.7,622.0 L1256.6,624.7 L1260.6,618.8 L1264.6,632.6 L1268.5,623.9" fill="none" stroke="#7d64b8" stroke-width="0.95" stroke-linejoin="round"/>
</g>
<defs><clipPath id="clip-rsi"><rect x="1280" y="515.3" width="86" height="171.2"/></clipPath></defs>
<g id="tags">
<rect x="1291.1" y="26.1" width="60.8" height="16.7" fill="#0f9a82"/>
<rect x="1291.1" y="125.2" width="60.8" height="17.4" fill="#0f9a82"/>
<rect x="1291.1" y="221.0" width="60.8" height="17.2" fill="#f7ba32"/>
</g>
<g id="usd">
<rect x="1293.5" y="3.5" width="65" height="19" rx="2.5" fill="#fff" stroke="#eaecf0" stroke-width="1"/>
<path d="M1351.4 12.3 L1353.2 14 L1355 12.3" fill="none" stroke="#131722" stroke-width="1.05"/>
</g>
<g id="btn">
<rect x="11.5" y="60.5" width="21.5" height="15" rx="2" fill="#fff" stroke="#e6e8ed" stroke-width="1"/>
<path d="M19.2 69.4 L22.1 66.8 L25 69.4" fill="none" stroke="#131722" stroke-width="1.15"/>
</g>
<g id="symbol-icon">
<clipPath id="flag-clip"><circle cx="20.8" cy="9.1" r="4.1"/></clipPath>
<g clip-path="url(#flag-clip)">
<rect x="16" y="4" width="10" height="10" fill="#fbe9ea"/>
<rect x="16" y="4.9" width="10" height="1" fill="#e8606c"/>
<rect x="16" y="6.9" width="10" height="1" fill="#e8606c"/>
<rect x="16" y="8.9" width="10" height="1" fill="#e8606c"/>
<rect x="16" y="10.9" width="10" height="1" fill="#e8606c"/>
<rect x="16" y="4" width="5.2" height="5.6" fill="#5d93de"/>
</g>
<circle cx="15.5" cy="14.45" r="5.2" fill="#fff"/>
<circle cx="15.5" cy="14.45" r="4.55" fill="#2068be"/>
<g fill="#6f9fd8">
<circle cx="15.5" cy="11.9" r="0.45"/><circle cx="17.3" cy="12.65" r="0.45"/><circle cx="18.05" cy="14.45" r="0.45"/><circle cx="17.3" cy="16.25" r="0.45"/>
<circle cx="15.5" cy="17" r="0.45"/><circle cx="13.7" cy="16.25" r="0.45"/><circle cx="12.95" cy="14.45" r="0.45"/><circle cx="13.7" cy="12.65" r="0.45"/>
</g>
</g>
<g id="status-dot">
<circle cx="208.5" cy="12.1" r="6" fill="#ddf3ee"/>
<circle cx="208.5" cy="12.1" r="3" fill="#1f9a82"/>
</g>
<g id="tv-logo" fill="#131722">
<path d="M13.4 664 H22.6 V675.4 H18.2 V668.4 H13.4 Z"/>
<circle cx="26.2" cy="666.2" r="2.2"/>
<path d="M31 664 H36 L31.2 675.4 H26.2 Z"/>
</g>
<g id="gear" fill="none" stroke="#2a2e39" stroke-width="1">
<path d="M1321.3 700.4 L1323.9 695.8 L1329 695.8 L1331.6 700.4 L1329 705.1 L1323.9 705.1 Z" stroke-linejoin="round"/>
<circle cx="1326.45" cy="700.45" r="1.75"/>
</g>

<g id="labels" text-rendering="geometricPrecision">
<text x="28.80" y="16.90" font-size="11.59" textLength="92.45" lengthAdjust="spacingAndGlyphs" fill="#131722" font-family="'Liberation Sans', sans-serif" stroke="#131722" stroke-width="0.15">Euro / U.S. Dollar</text>
<text x="126.20" y="16.90" font-size="11.59" textLength="2.70" lengthAdjust="spacingAndGlyphs" fill="#131722" font-family="'Liberation Sans', sans-serif" stroke="#131722" stroke-width="0.15">·</text>
<text x="132.60" y="16.90" font-size="11.59" textLength="14.35" lengthAdjust="spacingAndGlyphs" fill="#131722" font-family="'Liberation Sans', sans-serif" stroke="#131722" stroke-width="0.15">1D</text>
<text x="150.60" y="16.90" font-size="11.59" textLength="2.70" lengthAdjust="spacingAndGlyphs" fill="#131722" font-family="'Liberation Sans', sans-serif" stroke="#131722" stroke-width="0.15">·</text>
<text x="156.70" y="16.90" font-size="11.59" textLength="33.87" lengthAdjust="spacingAndGlyphs" fill="#131722" font-family="'Liberation Sans', sans-serif" stroke="#131722" stroke-width="0.15">FXCM</text>
<text x="228.00" y="16.05" font-size="10.14" textLength="6.89" lengthAdjust="spacingAndGlyphs" fill="#131722" font-family="'Liberation Sans', sans-serif">O</text>
<text x="237.50" y="16.05" font-size="10.14" textLength="38.12" lengthAdjust="spacingAndGlyphs" fill="#22a08a" font-family="'Liberation Sans', sans-serif">1.04971</text>
<text x="281.70" y="16.05" font-size="10.14" textLength="6.79" lengthAdjust="spacingAndGlyphs" fill="#131722" font-family="'Liberation Sans', sans-serif">H</text>
<text x="290.70" y="16.05" font-size="10.14" textLength="37.72" lengthAdjust="spacingAndGlyphs" fill="#22a08a" font-family="'Liberation Sans', sans-serif">1.05347</text>
<text x="334.70" y="16.05" font-size="10.14" textLength="4.41" lengthAdjust="spacingAndGlyphs" fill="#131722" font-family="'Liberation Sans', sans-serif">L</text>
<text x="342.00" y="16.05" font-size="10.14" textLength="37.82" lengthAdjust="spacingAndGlyphs" fill="#22a08a" font-family="'Liberation Sans', sans-serif">1.04801</text>
<text x="385.70" y="16.05" font-size="10.14" textLength="6.79" lengthAdjust="spacingAndGlyphs" fill="#131722" font-family="'Liberation Sans', sans-serif">C</text>
<text x="395.00" y="16.05" font-size="10.14" textLength="37.72" lengthAdjust="spacingAndGlyphs" fill="#22a08a" font-family="'Liberation Sans', sans-serif">1.05266</text>
<text x="439.00" y="16.05" font-size="10.14" textLength="13.85" lengthAdjust="spacingAndGlyphs" fill="#131722" font-family="'Liberation Sans', sans-serif">Vol</text>
<text x="454.50" y="16.05" font-size="10.14" textLength="34.44" lengthAdjust="spacingAndGlyphs" fill="#22a08a" font-family="'Liberation Sans', sans-serif">225.5K</text>
<text x="11.60" y="34.60" font-size="9.86" textLength="19.89" lengthAdjust="spacingAndGlyphs" fill="#131722" font-family="'Liberation Sans', sans-serif">EMA</text>
<text x="35.90" y="34.60" font-size="9.86" textLength="11.07" lengthAdjust="spacingAndGlyphs" fill="#50535d" font-family="'Liberation Sans', sans-serif">50</text>
<text x="50.80" y="34.60" font-size="9.86" textLength="23.76" lengthAdjust="spacingAndGlyphs" fill="#50535d" font-family="'Liberation Sans', sans-serif">close</text>
<text x="83.00" y="34.60" font-size="9.86" textLength="38.31" lengthAdjust="spacingAndGlyphs" fill="#6b86d9" font-family="'Liberation Sans', sans-serif">1.07291</text>
<text x="11.60" y="52.80" font-size="9.86" textLength="19.89" lengthAdjust="spacingAndGlyphs" fill="#131722" font-family="'Liberation Sans', sans-serif">EMA</text>
<text x="37.00" y="52.80" font-size="9.86" textLength="16.09" lengthAdjust="spacingAndGlyphs" fill="#50535d" font-family="'Liberation Sans', sans-serif">100</text>
<text x="57.00" y="52.80" font-size="9.86" textLength="23.46" lengthAdjust="spacingAndGlyphs" fill="#50535d" font-family="'Liberation Sans', sans-serif">close</text>
<text x="89.20" y="52.80" font-size="9.86" textLength="38.04" lengthAdjust="spacingAndGlyphs" fill="#131722" font-family="'Liberation Sans', sans-serif">1.08120</text>
<text x="11.50" y="359.50" font-size="10.00" textLength="28.62" lengthAdjust="spacingAndGlyphs" fill="#131722" font-family="'Liberation Sans', sans-serif">MACD</text>
<text x="45.10" y="359.50" font-size="10.00" textLength="9.52" lengthAdjust="spacingAndGlyphs" fill="#50535d" font-family="'Liberation Sans', sans-serif">12</text>
<text x="59.90" y="359.50" font-size="10.00" textLength="10.20" lengthAdjust="spacingAndGlyphs" fill="#50535d" font-family="'Liberation Sans', sans-serif">26</text>
<text x="74.20" y="359.50" font-size="10.00" textLength="23.66" lengthAdjust="spacingAndGlyphs" fill="#50535d" font-family="'Liberation Sans', sans-serif">close</text>
<text x="104.80" y="359.50" font-size="10.00" textLength="39.22" lengthAdjust="spacingAndGlyphs" fill="#22a08a" font-family="'Liberation Sans', sans-serif">0.00109</text>
<text x="150.60" y="359.50" font-size="10.00" textLength="44.63" lengthAdjust="spacingAndGlyphs" fill="#5f74c8" font-family="'Liberation Sans', sans-serif">−0.00785</text>
<text x="201.70" y="359.50" font-size="10.00" textLength="44.73" lengthAdjust="spacingAndGlyphs" fill="#f0964a" font-family="'Liberation Sans', sans-serif">−0.00895</text>
<text x="11.50" y="531.30" font-size="10.00" textLength="15.52" lengthAdjust="spacingAndGlyphs" fill="#131722" font-family="'Liberation Sans', sans-serif">RSI</text>
<text x="31.10" y="531.30" font-size="10.00" textLength="9.81" lengthAdjust="spacingAndGlyphs" fill="#50535d" font-family="'Liberation Sans', sans-serif">14</text>
<text x="44.90" y="531.30" font-size="10.00" textLength="23.66" lengthAdjust="spacingAndGlyphs" fill="#50535d" font-family="'Liberation Sans', sans-serif">close</text>
<text x="76.00" y="531.30" font-size="10.00" textLength="25.85" lengthAdjust="spacingAndGlyphs" fill="#9580cc" font-family="'Liberation Sans', sans-serif">41.21</text>
<text x="108.80" y="531.60" font-size="9.17" textLength="6.61" lengthAdjust="spacingAndGlyphs" fill="#4a4e59" font-family="'DejaVu Sans', sans-serif" stroke="#4a4e59" stroke-width="0.35">∅</text>
<text x="120.40" y="531.60" font-size="9.17" textLength="7.06" lengthAdjust="spacingAndGlyphs" fill="#4a4e59" font-family="'DejaVu Sans', sans-serif" stroke="#4a4e59" stroke-width="0.35">∅</text>
<text x="1295.68" y="17.90" font-size="13.04" textLength="25.30" lengthAdjust="spacingAndGlyphs" fill="#131722" font-family="'Liberation Sans', sans-serif">USD</text>
<text x="1297.96" y="74.70" font-size="13.19" textLength="48.48" lengthAdjust="spacingAndGlyphs" fill="#131722" font-family="'Liberation Sans', sans-serif">1.11000</text>
<text x="1297.98" y="106.50" font-size="13.19" textLength="48.45" lengthAdjust="spacingAndGlyphs" fill="#131722" font-family="'Liberation Sans', sans-serif">1.10000</text>
<text x="1297.98" y="170.00" font-size="13.19" textLength="48.45" lengthAdjust="spacingAndGlyphs" fill="#131722" font-family="'Liberation Sans', sans-serif">1.08000</text>
<text x="1297.98" y="201.70" font-size="13.19" textLength="48.45" lengthAdjust="spacingAndGlyphs" fill="#131722" font-family="'Liberation Sans', sans-serif">1.07000</text>
<text x="1297.98" y="265.30" font-size="13.19" textLength="48.45" lengthAdjust="spacingAndGlyphs" fill="#131722" font-family="'Liberation Sans', sans-serif">1.05000</text>
<text x="1297.98" y="297.00" font-size="13.19" textLength="48.45" lengthAdjust="spacingAndGlyphs" fill="#131722" font-family="'Liberation Sans', sans-serif">1.04000</text>
<text x="1297.98" y="328.80" font-size="13.19" textLength="48.45" lengthAdjust="spacingAndGlyphs" fill="#131722" font-family="'Liberation Sans', sans-serif">1.03000</text>
<text x="1298.60" y="355.90" font-size="13.19" textLength="47.63" lengthAdjust="spacingAndGlyphs" fill="#131722" font-family="'Liberation Sans', sans-serif">0.01000</text>
<text x="1298.60" y="391.15" font-size="13.19" textLength="47.63" lengthAdjust="spacingAndGlyphs" fill="#131722" font-family="'Liberation Sans', sans-serif">0.00500</text>
<text x="1298.60" y="426.40" font-size="13.19" textLength="47.63" lengthAdjust="spacingAndGlyphs" fill="#131722" font-family="'Liberation Sans', sans-serif">0.00000</text>
<text x="1298.60" y="461.65" font-size="13.19" textLength="55.02" lengthAdjust="spacingAndGlyphs" fill="#131722" font-family="'Liberation Sans', sans-serif">−0.00500</text>
<text x="1298.60" y="496.90" font-size="13.19" textLength="55.02" lengthAdjust="spacingAndGlyphs" fill="#131722" font-family="'Liberation Sans', sans-serif">−0.01000</text>
<text x="1298.60" y="523.00" font-size="13.19" textLength="32.62" lengthAdjust="spacingAndGlyphs" fill="#131722" font-family="'Liberation Sans', sans-serif" clip-path="url(#clip-rsi)">80.00</text>
<text x="1298.60" y="578.10" font-size="13.19" textLength="32.62" lengthAdjust="spacingAndGlyphs" fill="#131722" font-family="'Liberation Sans', sans-serif">60.00</text>
<text x="1298.60" y="633.00" font-size="13.19" textLength="32.62" lengthAdjust="spacingAndGlyphs" fill="#131722" font-family="'Liberation Sans', sans-serif">40.00</text>
<text x="1298.60" y="688.00" font-size="13.19" textLength="32.62" lengthAdjust="spacingAndGlyphs" fill="#131722" font-family="'Liberation Sans', sans-serif" clip-path="url(#clip-rsi)">20.00</text>
<text x="1299.70" y="38.50" font-size="12.75" textLength="45.79" lengthAdjust="spacingAndGlyphs" fill="#d6fff6" font-family="'Liberation Sans', sans-serif">1.12141</text>
<text x="1299.70" y="137.90" font-size="12.75" textLength="46.19" lengthAdjust="spacingAndGlyphs" fill="#d6fff6" font-family="'Liberation Sans', sans-serif">1.09000</text>
<text x="1299.70" y="233.60" font-size="12.75" textLength="46.19" lengthAdjust="spacingAndGlyphs" fill="#1c1408" font-family="'Liberation Sans', sans-serif">1.05988</text>
<text x="49.40" y="704.00" font-size="12.17" textLength="18.59" lengthAdjust="spacingAndGlyphs" fill="#131722" font-family="'Liberation Sans', sans-serif">Oct</text>
<text x="134.63" y="704.00" font-size="12.17" textLength="21.08" lengthAdjust="spacingAndGlyphs" fill="#131722" font-family="'Liberation Sans', sans-serif">Nov</text>
<text x="221.56" y="704.00" font-size="12.17" textLength="22.52" lengthAdjust="spacingAndGlyphs" fill="#131722" font-family="'Liberation Sans', sans-serif">Dec</text>
<text x="395.59" y="704.00" font-size="12.17" textLength="21.17" lengthAdjust="spacingAndGlyphs" fill="#131722" font-family="'Liberation Sans', sans-serif">Feb</text>
<text x="478.57" y="704.00" font-size="12.17" textLength="21.48" lengthAdjust="spacingAndGlyphs" fill="#131722" font-family="'Liberation Sans', sans-serif">Mar</text>
<text x="563.40" y="704.00" font-size="12.17" textLength="19.25" lengthAdjust="spacingAndGlyphs" fill="#131722" font-family="'Liberation Sans', sans-serif">Apr</text>
<text x="647.62" y="704.00" font-size="12.17" textLength="22.48" lengthAdjust="spacingAndGlyphs" fill="#131722" font-family="'Liberation Sans', sans-serif">May</text>
<text x="741.00" y="704.00" font-size="12.17" textLength="20.18" lengthAdjust="spacingAndGlyphs" fill="#131722" font-family="'Liberation Sans', sans-serif">Jun</text>
<text x="822.00" y="704.00" font-size="12.17" textLength="16.34" lengthAdjust="spacingAndGlyphs" fill="#131722" font-family="'Liberation Sans', sans-serif">Jul</text>
<text x="910.00" y="704.00" font-size="12.17" textLength="22.18" lengthAdjust="spacingAndGlyphs" fill="#131722" font-family="'Liberation Sans', sans-serif">Aug</text>
<text x="997.00" y="704.00" font-size="12.17" textLength="20.77" lengthAdjust="spacingAndGlyphs" fill="#131722" font-family="'Liberation Sans', sans-serif">Sep</text>
<text x="1080.60" y="704.00" font-size="12.17" textLength="18.78" lengthAdjust="spacingAndGlyphs" fill="#131722" font-family="'Liberation Sans', sans-serif">Oct</text>
<text x="1169.61" y="704.00" font-size="12.17" textLength="21.48" lengthAdjust="spacingAndGlyphs" fill="#131722" font-family="'Liberation Sans', sans-serif">Nov</text>
<text x="1252.54" y="704.00" font-size="12.17" textLength="22.94" lengthAdjust="spacingAndGlyphs" fill="#131722" font-family="'Liberation Sans', sans-serif">Dec</text>
<text x="300.40" y="704.00" font-size="12.00" textLength="30.63" lengthAdjust="spacingAndGlyphs" fill="#131722" font-family="'Liberation Sans', sans-serif" font-weight="bold">2024</text>
</g>
</svg>
</body>
</html>
